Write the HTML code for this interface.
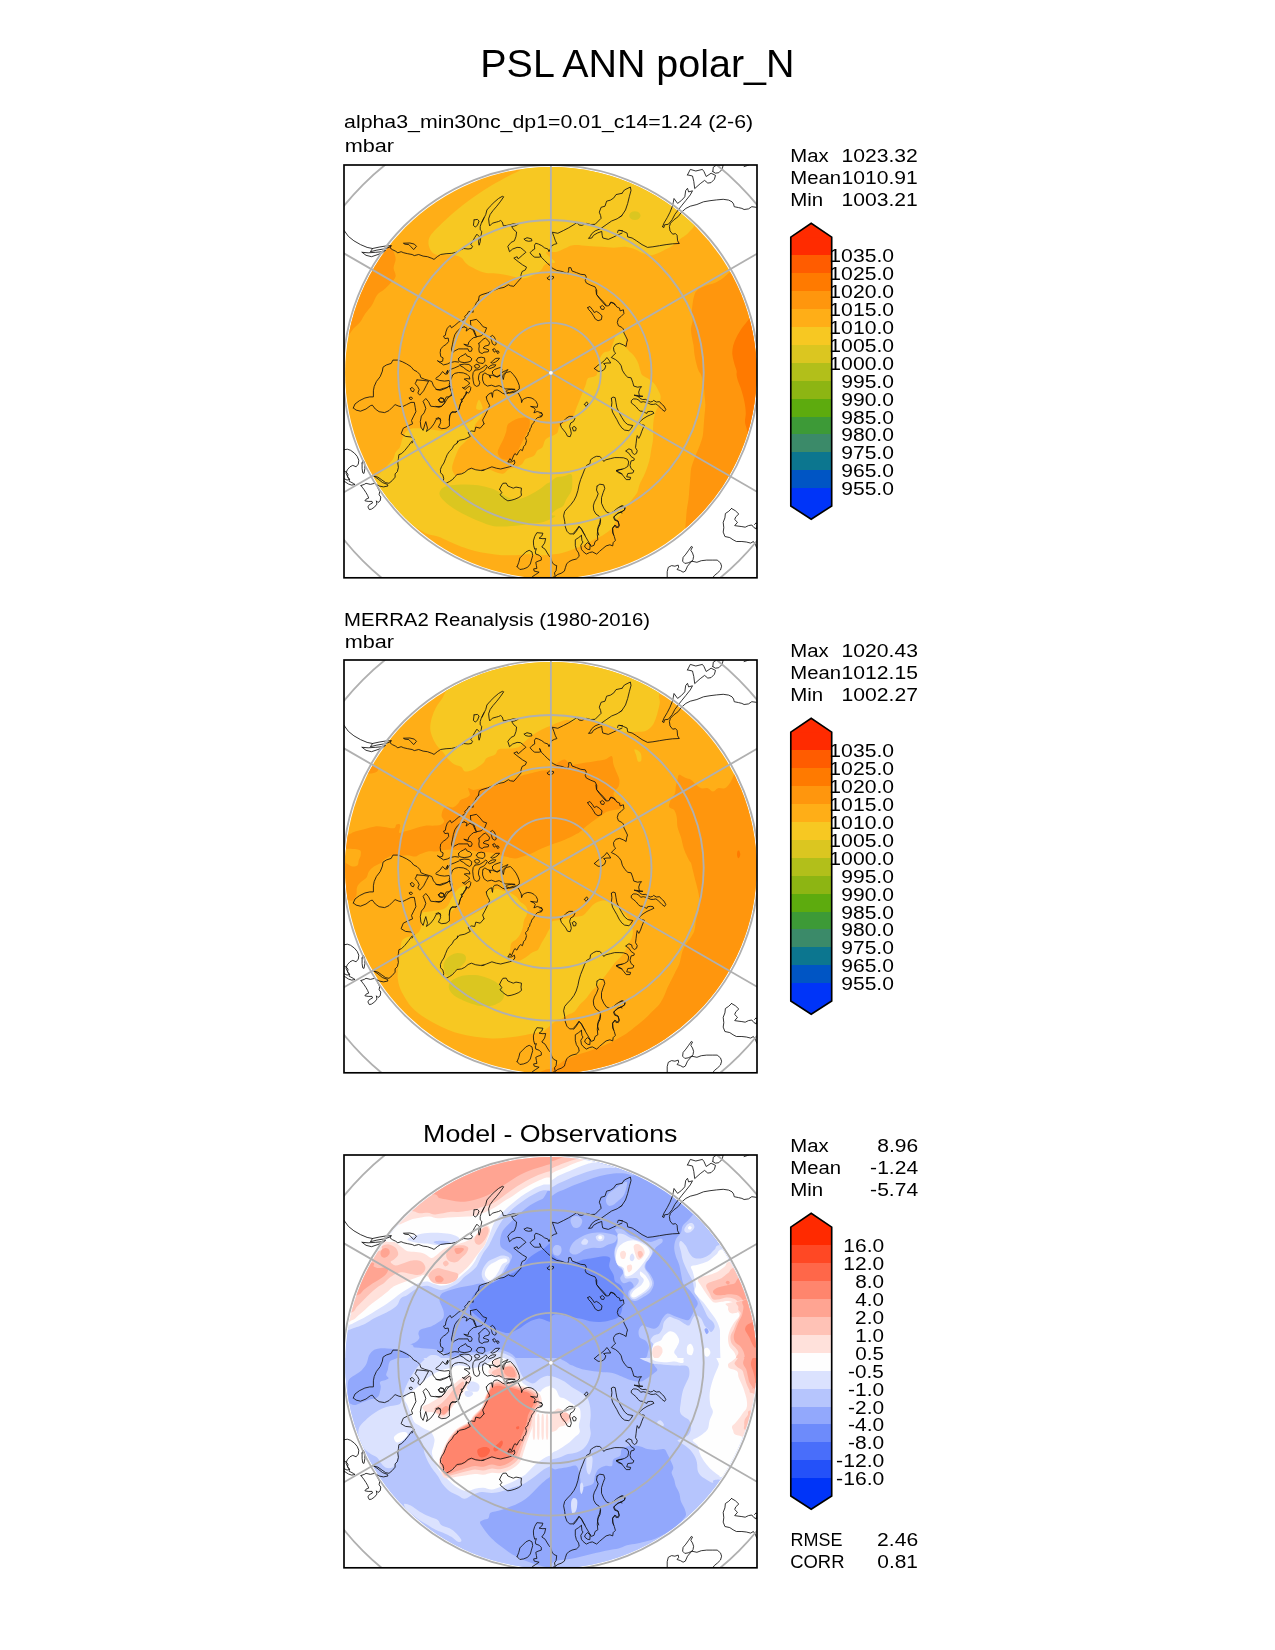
<!DOCTYPE html>
<html><head><meta charset="utf-8"><title>PSL ANN polar_N</title>
<style>html,body{margin:0;padding:0;background:#fff}svg{display:block}text{font-family:"Liberation Sans",sans-serif;fill:#000}.c{fill:none;stroke:#111;stroke-width:0.85;stroke-linejoin:round;stroke-linecap:round}.g{fill:none;stroke:#b0b0b0;stroke-width:1.85}</style></head><body>
<svg width="1275" height="1650" viewBox="0 0 1275 1650">
<rect width="1275" height="1650" fill="#fff"/>
<defs>
<clipPath id="box"><rect x="344" y="165" width="413" height="412.8"/></clipPath>
<clipPath id="disc"><circle cx="550.9" cy="372.8" r="205.8"/></clipPath>
<clipPath id="qTL"><rect x="300" y="100" width="250.9" height="268"/></clipPath>
<clipPath id="qTR"><rect x="550.9" y="100" width="300" height="268"/></clipPath>
<clipPath id="qBL"><rect x="300" y="368" width="250.9" height="300"/></clipPath>
<clipPath id="qBR"><rect x="550.9" y="368" width="300" height="300"/></clipPath>
<g id="grid" class="g"><circle cx="550.9" cy="372.8" r="49.9"/><circle cx="550.9" cy="372.8" r="100.6"/><circle cx="550.9" cy="372.8" r="152.8"/><circle cx="550.9" cy="372.8" r="207.6"/><circle cx="550.9" cy="372.8" r="265.9"/><circle cx="550.9" cy="372.8" r="329.3"/><path d="M550.9,-47.2 L550.9,792.8"/><path d="M187.2,162.8 L914.6,582.8"/><path d="M914.6,162.8 L187.2,582.8"/></g>
<g id="coast" class="c"><path d="M344,230.3 348.4,236.4 353.9,240.8 360.5,244.6 367.1,247.4 372.5,248.5 371.5,250.1 370.4,251.7 376.9,250.1 383.5,249 389,247.4 391.2,245.7 385.7,246 379.1,247.1 372.5,248.5"/><path d="M362.1,252.3 368.2,252.8 375.8,252.3 382.4,251.7 385.7,250.1 382.4,252.8 378,254.5 371.5,256.7 366,255.3 362.1,252.3"/><path d="M391.2,245.7 390.1,247.9 392.3,249.6 395.6,251.2 397.8,252.8 401.1,251.7 403.8,252.8 407.7,253.7 412.1,254.5 414.3,255.6 418.7,254.5 423.1,256.1 427.5,256.7 431.8,258.3 434,259.4 437.3,256.7 440.6,254.5 446.1,253.7 451.6,253.4 456,252.3 460.4,250.1 463.7,248.5 468.1,249 471.4,248.5 472.5,246.3 470.8,244.6 473,240.8 474.7,237.5 476.9,234.2 479.6,236.9 478.5,241.9 479.1,245.2 480.2,241.9 480.7,237.5 481.3,234.2 481.8,231.4 480.2,229.8 480.2,226.5 481.3,223.2 482.9,219.9 484,217.7"/><path d="M403.8,243.2 409.9,243 414.3,244.1 416.5,246.3 413.7,249.6 411,246.8 408.8,244.6 404.4,244.1 403.8,243.2"/><path d="M474.1,219.9 477.4,219.4 479.1,221 477.4,225.4 475.2,227 473.4,225.4 474.1,219.9"/><path d="M482,222.1 483.6,218.8 485.8,214.4 486.9,210 490.2,206.2 494.1,202.3 498.5,198.5 502.3,196.3 503.7,196.8 500.7,201.2 496.8,206.2 493,210.6 490.2,214.4 488.6,218.8 489.1,223.2 489.7,225.9 492.4,223.2 496.3,222.1 498.5,221.5 500.7,220.5 502.3,222.1 503.4,225.9 506.7,225.4 509.5,224.8 513.8,223.7 518.2,224.3 514.9,225.9 511.6,226.5 513.8,229.8 516.6,232 516,236.4 514.4,240.8 511.1,242.4 507.8,246.3 509.5,251.7 512.7,249 517.1,247.4 520.4,247.6 523.7,250.1 525.9,252.3 522.6,255 518.2,258.9 517.1,256.7 513.8,258.1 518.2,261.6 522.6,264.9 526.5,267.1 525.4,269.9 522.1,271.5 521,274.8 521,278.1 517.1,282.5 513.8,286.3 510.5,285.8 508.4,284.7 504,287.4 498.5,288.5 493,290.7 487.5,292.9 482,294.6 479.3,295.9 478.4,300.3"/><path d="M524.3,239.1 527,237.7 531.4,238.8 532,240.8 528.7,241.3 525.4,240.5 524.3,239.1"/><path d="M551.8,245.7 549.9,249.6 549,251.7 547.9,249 544.6,247.9 541.8,245.7 538.5,244.1 535.8,243.2 534.5,245.2 534.7,249 532,250.6 530.1,252.8 532.5,255.6 534.7,257.2 539.1,257.2 540.7,256.7 539.6,253.4 541.3,257.2 544.6,260.5 547.9,263.8 550.6,266 552.3,268.2 556.7,270.4 562.2,271.5 567.6,273.7 568.7,270.4 568.7,267.7 570.9,267.7 572,271 576.4,272.6 580.8,274.3 585.2,274.8 586.3,277 585.2,280.3 586.3,283 590.7,285.2 595.1,286.9 596.7,290.2 596.7,294.6 599.5,297.9 602.8,301.2 606.1,305"/><path d="M551.8,245.7 554.5,244.3 556.9,243.6 555.4,240.8 553.9,236.4 552.3,232.2 557.8,233.3 563.3,230.6 568.7,227.8 573.1,225.1 577,222.6 579.2,225.1 581.9,225.4 586.3,223.4 590.7,224.5 595.1,224.3 598.4,221 601.1,218.3 600.6,215.5 599.3,212.2 601.1,207.3 605,206.2 606.6,201.2 610.5,200.1 613.8,197.9 616,194.6 622,193.3"/><path d="M622,215.5 617.1,218.8 611.6,221 606.1,224.8 600.6,228.7 595.1,230.9 591.8,233.6 590.2,236.4 588.5,238.4 591.8,238 593.5,235.3 597.3,233.1 601.7,231.4 602.2,235.3 602.8,238 608.3,239.4 613.8,236.9 618.2,234.7 622,233.1"/><path d="M622.6,230.7 618.2,230.3 617.6,232.5"/><path d="M547.3,278.1 549.5,276.1 553.4,276.5 553.6,278.1 550.6,280.1 547.9,279.2 547.3,278.1"/><path d="M609.4,305 610.5,302.3 613.8,303.4 614.9,305"/><path d="M622,193.3 624.4,190 630.4,187 631,190.5 629.3,196.8 627.7,203.4 625.5,210 622.2,215 620,217.2"/><path d="M620,230.3 623.3,231.4 627.1,233.1 627.7,236.9 632.1,238 636.5,240.8 642,244.6 647.5,247.4 652.9,246.8 659.5,245.7 666.1,244.6 672.7,243.8 679.3,243.5 677.6,240.8 677.1,235.3 675.5,233.6 672.7,234.2 670,230.9 669.4,226.5 670.5,223.2 673.8,219.9 678.2,216.6 681.5,212.2 685.9,208.4 690.3,206.2 696.9,204.5 703.5,201.8 710,200.7 716.6,199.9 723.2,199.3 728.7,200.1 732,201.8 733.6,204 734.2,206.7 738.6,207.6 741.9,208.4 744.1,209.5 748.5,208.9 751.8,206.7 756.2,207.3"/><path d="M662.6,226.7 663.9,223.2 667.2,217.7 670,212.2 672.2,206.7 673.3,202.3 674,198.5 677.6,203.4 681.5,200.4 684.8,196.8 685.7,190.5 687.5,188.3 688.6,191.9 692.5,190.8 690.3,194.9 685.9,200.4 681.5,205.8 678.2,210 674.9,214.4 672.2,219.6 668.3,224.3 664.5,224.8 663.9,227.6 662.6,226.7"/><path d="M687.5,174.9 690.3,169.4 695.8,171 702.4,169.4 704,171.6 706.2,176.5 711.1,173.2 715.5,175.4 714.4,179.3 711.1,182.6 707.8,183.1 704.6,180.4 700.2,183.7 694.7,188.6 693.8,181.5 692.5,176 687.5,174.9"/><path d="M712.8,171.6 713.3,167.2 716.6,165 723.2,165 722.1,169.4 718.8,172.7 715.5,173.2 712.8,171.6"/><path d="M744.1,166.6 747.4,165.5 749.6,164.5"/><path d="M353.3,407.9 355,404 359.4,400.7 364.9,398 369.8,396.9 373.4,396.9 373.4,390.8 374.2,386.5 376.4,381.5 380.2,376.6 382.4,371.1 383,367.2 386.3,365 391.2,363.4 392.9,360.1 397.8,360.1 402.2,361.7 406.6,363.9 411,366.7 413.7,370 417,371.6 419.8,374.4 420.9,377.7 424.7,379.3 428.6,380.4 431.8,381.5 433.5,385.9 436.8,389.7 440.6,390.3 445,388.6 448.3,386.5 451.1,386.5 452.2,389.7 451.6,394.1 448.9,396.9 446.7,399.6 444.5,403.5 441.7,406.2 436.2,406.8 430.7,406.2 428.6,401.8 425.8,398.5 423.1,401.3 424.7,405.1 425.8,408.4 424.2,412.8 421.4,416.1 420.3,421.6 420.9,427.1 423.1,430.4 424.7,424.9 425.8,421.6 427.5,428.2 426.4,431.5 430.7,428.2 434,423.8 436.2,419.4 440.1,418.3 440.6,422.7 438.4,427.1 441.7,428.7 446.1,428.2 449.4,426 449.4,419.4 450,415 452.2,411.7 456,412.3 459.3,408.4 460.4,404 462,400.2 464.8,396.3 466.4,391.9"/><path d="M353.3,407.9 356.1,410.1 360.5,411.2 366,409 370.4,405.7 372.3,405.1 375.3,409 379.1,411.7 384.6,412.6 389,410.6 392.3,407.3 395.1,404.6 398.9,406.2 402.2,406.8 406.6,404.6 411,402.4 414.3,402.4 415.2,407.3 415.9,411.7 413.7,416.1 411.5,420.5 412.6,423.8 407.7,426 403.3,428.2 401.1,433.7 405.5,436.4 411,437 414.3,439.2 412.1,443"/><path d="M417,379.9 423.1,380.4 428.6,381.2 426.4,385.4 423.6,390.8 419.8,395.2 417.8,393 419.2,389.7 417.6,386.5 415.2,383.7 417,379.9"/><path d="M410.4,388.6 412.1,387.3 414.3,389.7 413.2,391.9 411.2,390.8 410.4,388.6"/><path d="M409.3,398 411,396.9 412.6,398.3 411.2,399.6 409.7,399.1 409.3,398"/><path d="M438.4,399.6 440.6,397.7 443.4,398.3 444.5,400.2 442.3,402.2 439.5,401.8 438.4,399.6"/><path d="M484,423.8 480.2,428.2 475.8,427.1 474.7,431.5 471.4,430.9 468.1,432.6 470.3,436.4 464.8,439.2 459.3,440.3 457.1,443"/><path d="M470.4,320.7 476.5,319.3 480.2,323.1 483.1,326.8 486.6,327.8 484.9,332.5 481.2,335.8 476.5,336.7 475.1,332.9 473.6,329.2 470.8,325.4 470.4,320.7"/><path d="M478.8,300 476.5,302.4 475.1,305.6 472.7,308.9 473.2,312.2 468.9,311.3 467.1,314.1 464.7,316.5 465.6,318.4 462.8,320.2 458.6,322.1 454.8,325.4 451.5,327.8 450.1,325.4 447.3,328.2 445.9,332 445.4,335.3 443.5,336.2 444.9,338.6 448.2,338.1 448.7,341.4 446.4,344.2 443.5,346.1 440.7,348.9 440.2,352.7 440.7,356.5 443.1,357.9 442.6,361.2 439.8,362.1 437.4,360.7 440.2,362.6 443.5,364.9 447.3,364 450.1,362.6 454.8,361.6 458.6,362.1"/><path d="M464.2,326.8 467.1,328.2 466.1,331.1 469.9,328.2 473.2,330.1 475.1,334.8 476.5,337.2 473.6,337.6 471.3,339.5 468.9,341.9 468,345.2 463.8,344.2 467.1,346.1 470.8,346.6 472.2,348.9 471.3,351.3 468.9,351.3 468,348.9 463.3,348.9 458.6,348.9 454.8,350.8 452.5,352.7 451.5,348.9 452.5,344.2 453.4,339.5 454.8,334.8 457.2,331.1 460.5,328.2 464.2,326.8"/><path d="M478.8,343.3 481.2,341.4 483.1,339.1 485.4,338.1 488.2,340.5 489.6,342.8 488.7,345.2 484.9,346.1 483.1,348 485.9,348.9 488.7,349.9 488.2,351.8 484,352.2 482.1,353.6 479.3,352.2 478.8,348.9 479.3,346.1 478.8,343.3"/><path d="M490.6,336.7 492.5,335.3 494.4,337.2 495.8,340.5 496.2,344.2 494.8,345.2 492.5,343.8 491.5,340.5 490.6,336.7"/><path d="M492.9,349.4 494.4,348.5 495.8,350.4 494.8,352.2 493.4,351.3 492.9,349.4"/><path d="M496.7,351.3 498.1,350.8 499.1,352.2 498.1,353.6 497,352.9 496.7,351.3"/><path d="M458.6,358.4 460.5,356.5 463.3,355.1 465.6,353.6 467.1,356 469.9,356.9 471.8,358.8 470.8,361.2 468,362.1 464.2,362.6 460.9,362.1 458.6,360.7 458.6,358.4"/><path d="M460,364.9 464.2,364 468.9,364.5 471.8,366.8 471.3,370.1 469.4,371.5 466.1,369.6 463.3,367.3 460.5,365.9 460,364.9"/><path d="M476.5,360.2 477.9,357.9 481.2,357.2 484.5,357.9 484.9,361.2 483.1,363.5 480.2,363.1 477.9,362.6 476.5,360.2"/><path d="M474.6,365.9 476,364.2 478.8,364.9 479.8,366.8 477.9,368.2 475.5,368 474.6,365.9"/><path d="M475.1,370.1 479.3,369.6 483.1,367.3 485.9,364.9 487.3,366.4 485.4,369.6 483.1,371.5 480.2,372.5 478.8,375.3 478.4,379.1 479.8,382.8 478.8,385.6 476.5,386.4 474.1,384.7 473.2,380.9 472.7,376.2 473.2,372.5 475.1,370.1"/><path d="M491.1,362.6 493.4,360.2 495.8,358.4 499.5,358.2 498.1,360.2 495.3,362.1 492.5,363.2 491.1,362.6"/><path d="M488.2,367.8 490.1,365.9 492.5,364.9 495.8,364.8 494.8,366.6 492,367.8 489.6,368.7 488.2,367.8"/><path d="M483.1,374.4 484.9,372.9 487.3,374.4 489.6,375.3 490.6,378.1 489.2,375.3 492.5,375.3 496.2,376.7 500.9,375.3 501.9,372.5 505.6,370.6 508,369.6 505.2,372.5 503.3,374.4 502.4,377.2 503.3,379.5 504.2,375.3 506.1,372.5 510.4,371.5 513.2,374.4 516,378.1 517.9,381.9 519.3,385.6 519.3,388.9 516.9,390.8 513.2,391.3 509.4,392.7 505.6,391.8 507.5,389.9 511.3,389.4 515.1,389.4 510.4,388.9 505.6,388.9 501.9,387.1 499.1,385.6 495.3,386.6 491.5,385.2 487.3,386.1 484,383.8 482.6,380 482.6,376.2 483.1,374.4"/><path d="M492.5,371.5 494.4,369.6 498.1,368.2 500.9,367.3 501.9,369.6 500.9,372.5 500,375.3 497.2,377.2 494.4,375.3 492.5,373.9 492.5,371.5"/><path d="M452.5,375.3 454.8,373.4 458.6,372.5 463.3,372.9 467.1,374.4 469.4,376.7 469.9,379.1 467.1,378.6 464.2,379.1 467.1,380.9 469.9,383.3 468,384.7 466.1,386.6 463.3,388 462.4,387.5 465.2,389.4 467.5,387.5 469.4,386.1 470.8,387.5 470.4,390.4 468.5,393.2 466.1,391.8 466.6,394.1 464.2,396 463.3,398.8 460.9,399.3 462.4,401.6 460.5,403.5 459.5,406.4 459.1,409.2 457.6,411.1 454.8,412 451.1,412.5 449.6,415.8 449.2,420"/><path d="M452.5,375.3 451.5,378.1 450.1,380.9 449.2,384.7 450.1,388.5 451.5,392.2 452,395.1 449.2,396.9 446.4,396.9 444.9,399.8 444,403.5 441.6,406.4 438.8,407.3 436,406.4"/><path d="M486.4,396.9 488.7,394.1 491.5,392.7 492.5,397.4 492.9,392.7 494.4,390.4 497.2,389.9 500,391.3 502.4,393.2 505.2,394.1 508.5,393.2 512.2,392.7 516,391.8 518.4,393.2 519.8,396 521.2,398.8 521.6,402.6 522.6,399.8 524.9,398.4 527.8,397.4 531.1,397.9 533.9,399.3 536.2,401.6 537.6,404.5 537.2,407.3 533.9,406.8 530.6,406.4 533.9,407.8 535.3,409.6 533.9,412.9 537.2,411.5 540.5,412.5 542.4,414.4 541.6,416.7 537.5,417.6 534.9,420.1 533.9,422.4 531.7,425.1 531.2,427.2 530.1,428.8 529.6,431.4 528.2,432.9 528,435.2 525.5,437.6 526.2,440.1"/><path d="M486.4,396.9 486.8,399.8 488.2,402.6 489.6,405.4 488.7,408.2 486.8,412 484.9,415.8 482.6,420 484,423.8"/><path d="M438.8,399.8 440.7,398.1 443.5,398.8 444,400.7 442.1,402.4 439.8,401.8 438.8,399.8"/><path d="M436,378.1 439.8,375.3 442.6,371.5 445.4,374.4 447.8,370.1 446.8,374.4 450.1,369.6 454.8,367.8 459.1,365.9"/><path d="M436,379.1 439.8,380.5 444.5,381.1 449.2,380.5 450.1,381.9"/><path d="M436,389.4 439.8,389.6 443.5,388.3 447.3,387.7 450.1,385.2"/><path d="M436,418.6 438.8,417.6 440.7,420"/><path d="M595.9,290 596.5,294.4 599.2,298.2 602.5,302.1 605.8,305.9 608.5,305.9 611.3,302.1 614.6,303.7 616.8,307 619.5,308.1 620.1,310.9 623.4,309.8 623.9,313.6 621.2,316.4 618.4,318.5 617.3,322.4 618.4,325.7 621.7,327.3 623.4,329 623.9,332.8 625.6,336.1 627.5,340 626.7,342.7 626.1,346.5 623.4,344.9 619.5,343.3 615.7,344.4 613.5,347.6 614,351.5 615.7,353.1 612.9,355.9 611.3,357.5 615.7,359.7 619,362.5 621.2,365.8 622.3,370.2 625,374.6 627.8,377.3 631.1,377.8 632.7,382.2 633.8,386.1 637.6,387.2 641.5,386.6 639.8,388.8 638.7,392.1 639.3,395.4"/><path d="M587.7,307.6 589.9,306.5 592.6,309.8 594.3,312.5 596.5,311.4 599.2,313.1 602,315.8 601.4,319.6 598.1,320.7 595.4,319.1 593.2,315.3 591,312 588.8,309.8 587.7,307.6"/><path d="M600.3,307 602.3,305.4 604.5,307.6 603.6,309.5 601.4,309.2 600.3,307"/><path d="M594.3,368.5 598.1,365.2 601.4,363 604.7,360.3 606.9,357.5 609.1,360.3 610.7,363 606.9,363 603.6,363.6 605.8,365.8 604.7,369.1 601.4,371.3 598.1,371.3 594.3,368.5"/><path d="M634.4,395.2 638.7,395.6 642.9,396.3 638.7,396.7 634.4,395.2"/><path d="M560.3,424.1 563.1,421.9 565.8,418.6 569.1,416.4 572.9,416.4 574.9,418.6 573.5,421.4 570.7,423 569.6,426.3 570.7,430.1 571.3,433.4 570.2,436.7 567.5,436.2 565.8,432.9 563.6,430.1 561.4,427.4 560.3,424.1"/><path d="M572.4,427.9 574,426.3 576.2,427.9 575.7,430.7 573.5,431 572.4,427.9"/><path d="M584.5,404.3 586.7,401.8 588,403.8 586.1,406.5 584.5,404.3"/><path d="M540,413.1 541.6,412.6 542.4,414.8 541.1,416.4 540,415.9"/><path d="M611.4,398.3 613,397 615.2,397.7 616,402.7 616.9,407.6 619.1,412.6 621.8,417.5 624.6,421.9 627.8,424.6 632.8,425.5 631.1,428.5 628.9,430.7 624.6,430.1 621.8,427.9 619.1,424.1 616.9,419.7 614.7,415.9 612.5,412 611.4,407.1 611.9,402.7 611.4,398.3"/><path d="M638.2,396.3 640.1,398.5 642.6,399.5 645.8,399.4 647.6,400.7 650.2,402 652.7,401.4 653.6,400.4 656.4,402 659.6,401.7 661.4,403.9 664,406.1 665.8,409.5 664.6,411.4 662.1,409.5 659.6,407 657.7,405.1 655.8,403.9 653.3,404.4 650.8,404.4 648.3,403.2 645.8,402.3 643.2,401.7 640.7,402.3 638.9,400.1 636.3,399 633.2,398.9 631.3,400.7 631.3,402.9 633.8,404.8 636.3,407 638.2,409.5 640.1,411.1 643.2,411.4 645.8,413 647,413.3 647.6,411.7 650.8,411.3 653,411.7 653.9,413.3 650.8,414.7 647,416.4 643.9,418.3 641.4,420.2 639.5,422.1 639.4,423.5"/><path d="M639.4,423.5 641.6,424.6 644.3,425.2 643.2,427.9 641.6,431.8 640.5,435.1 638.8,438.4 637.2,435.6 636.6,438.9 636.1,443.3 635.5,447.7 637.2,450.5 636.6,453.2 634.4,454.5 632.2,452.6 631.7,449.9 628.9,448.8 625.6,451 628.9,453.2 631.1,456.5 634.4,458.7 633.9,460.3 631.1,460.9 630,465.3 631.1,468.6 633.9,470.8 632.8,473 627.8,473.5 626.7,476.8 630.6,477.4 630,479.6 626.2,479.6 624,476.8 621.3,473.5 618.5,471.9 616.3,470.8 620.2,469.7 624.6,468.4 627.8,466.4 628.7,462 627.3,459.2 623.5,457.8 619.1,457.6 614.7,457.6 610.3,458.7 605.9,459.8 603.7,461.4 602,458.7 599.8,456.5 596.5,456.3 593.8,457.4 590.5,459.8 590,463.6 586.7,465.3 584.5,469.7 582.8,474.1 580.6,479.6 579,485 577.9,490.5 576.2,496 574,500.4 570.7,504.8 567.5,508.1 564.7,511.4 563.6,515.8 564.7,521.3 565.3,526.8 566.9,531.2 569.6,533.9 572.9,533.9 576.2,530.1 579,526.2 581.7,529.5 583.9,533.4 585,535"/><path d="M597.1,486.1 599.8,484.2 603.7,484.8 604.8,488.3 603.1,492.7 601.5,497.7 601.5,503.2 603.7,508.1 606.4,511.9 610.3,513.6 613.6,511.4 616.9,508.6 621.3,505.9 624.6,506.5 625.1,509.2 622.4,511.4 618.5,513 615.8,515.2 613.6,517.4 614.7,520.2 618,521.3 619.1,525.1 616.9,527.9 614.7,526.2 612.5,528.4 613,533.4 613.6,535"/><path d="M597.1,486.1 596.5,490 598.2,493.8 596.5,498.2 594.4,502.1 593.3,505.9 593.8,510.3 596,514.1 599.3,516.3 600.4,519.1 599.8,522.9 598.2,526.8 597.6,531.2 598.7,535"/><path d="M412.1,441 408.8,445.4 404.9,450.3 401.6,453.6 398.9,454.7 398.4,458.6 397.8,463 398.4,467.4 397.3,471.7 395.1,473.9 395.1,477.2 392.3,480.5 389,483.3 385.7,482.7 381.9,480 378,477.2 373.6,475.9 378,478.9 382.4,482.5 387.4,484.4 387.9,486 383.5,486.9 379.1,486 375.8,484"/><path d="M361,485.5 364.3,484.4 366,483.3 370.4,484.4 374.7,483.3 376.9,484.9 378,488.2 379.7,491.5 379.1,494.8 380.8,497 380.2,500.8 378,502.5 376.4,500.8 376.9,504.1 374.7,506.9 371.5,509.1 369.3,509.6 367.9,506.9 369.3,504.7 372.5,503 372,501.4 368.2,501.4 364.9,500.8 366,499.2 368.7,498.1 367.6,495.4 366,492.6 363.8,489.3 362.1,487.1 361,485.5"/><path d="M344,449.8 347.3,449.2 350.6,450.3 354.4,453.1 357.2,456.4 358.8,460.2 358.3,464.1 356.1,466.8 352.8,465.4 350,466.8 347.3,469.8 346,473.1 347.5,476.4 349.3,479.4 347.1,480.1 344,478.6"/><path d="M344,470.9 346.2,472 348,474.2 347.5,477.2 349.7,479 349.1,481.2 353.4,483.4 355,484.5 351.7,485.1 348.4,484 345.1,481.8 344,481.2"/><path d="M362.1,463 363.2,460.2 364.6,463 364.9,468.5 364,473.4 362.7,472.8 362.1,468.5 362.1,463"/><path d="M457.6,441 457.1,443.2 453.8,445.4 452.2,448.7 449.4,451.4 447.2,454.7 445.6,458.6 443.9,463 441.7,466.3 440.4,469.5 440.6,472.8 442.8,475 443.7,478.3 443.4,481.1 446.1,483.3 449.4,481.6 452.7,479.4 454.9,476.7 457.1,474.5 461.5,473.9 464.8,472.3 468.1,469.5 471.4,468.2 475.8,469.8 480.2,470.4 484,470.1"/><path d="M482,470.6 486.4,469 491.9,466.8 496.3,468.2 500.7,469 505.1,467.9 509.5,466.8 512.7,465.7 514.9,463 514.4,460.2 511.6,461.9 507.8,462.1 510,458.6 511.4,460.8 513.8,455.3 514.9,453.6 516.9,455.1 518.8,451.4 520.7,449.6 522.4,450.7 523.7,446.5 525.4,444.8 526.5,441"/><path d="M499.6,489.3 501.2,486 502.9,483.3 506.2,483.1 507.8,486 510.5,487.1 513.3,488.2 516,487.1 519.3,487.7 521.5,488.2 521,492.1 521.5,495.4 518.8,497.5 514.9,499.2 511.1,500.3 507.8,500.8 505.1,499.2 502.3,497 500.1,494.8 501.8,492.6 499.6,489.3"/><path d="M532.5,576.6 535.8,574.4 539.1,572.2 534.2,571.1 533.6,568.9 536.9,568.4 536.4,565.6 535.8,562.3 538,561.2 541.3,560.1 541.3,557.4 539.1,555.2 535.8,554.1 535.3,551.9 536.4,548.6 534.7,549.2 533.6,545.3 533.4,540.9 534.7,536.5 536.9,532.7 542.9,533.2 541.8,536 539.1,538.2 542.9,538.7 545.7,538.5 544.6,543.1 541.8,547 545.1,549.2 547.3,553 549,555.7 550.6,557.4 552.3,562.9 555,565.1 556.7,565.6 556.1,570.6 554.5,572.8 555,575.5 553.4,577.2"/><path d="M517.1,566.7 518.8,562.3 519.9,557.9 522.6,555.2 525.9,551.9 529.2,550.3 532,551.9 532.7,555.7 531.4,560.1 530.3,564 527.6,567.3 523.7,568.9 519.9,569.5 517.1,566.7"/><path d="M581.4,535.4 578.6,537.6 575.3,539.8 575.3,545.3 576.4,549.7 578.6,553 579.2,556.3 576.4,559 572,560.1 568.7,561.8 566.6,564 565.5,567.3 564.4,571.1 561.1,573.3 557.8,574.4 555,576.6"/><path d="M581.4,535.4 581.9,540.4 583,542 580.8,545.3 581.4,549.2 583,551.4 586.3,554.1 589.6,552.5 592.4,551.9 596.7,554.1 599.5,551.4 602.8,548.6 606.1,545.9 609.9,544.8 612.7,545.9 613.2,542.6 615.4,540.4 614.3,536.5 612.7,532.1 612.7,527.7 614.9,525 618.2,527.7 619.3,525.6 618.2,521.2 615.4,519.5 613.8,516.8 617.1,513.5 620.4,512.4 622,512.9"/><path d="M590.2,544.8 587.4,542.6 585.2,544.8 584.7,547 587.4,549.2 589.8,549.7 590.2,544.8"/><path d="M622,469.3 619.3,469.5 616,470.6 618.7,472.8 622,473.9"/><path d="M573.7,534.3 576.4,531 579.2,526.6 581.4,528.8 583.6,533.2 585.8,537.1 588,540.9 590.2,544.8 591.3,546.4 594,545.3 595.1,541.5 597.8,539.8 597.3,534.3 597.8,528.8 600,524.5 600.6,520.1"/><path d="M620,506.9 622.7,505.8 624.9,507.4 624.4,510.2 621.6,511.8 620,512.4"/><path d="M731.5,508.5 735.3,510.7 738.8,514 735.8,516.8 734.7,519.5 737.5,522.3 734.7,525.6 738,526.1 741.9,526.6 745.2,527.2 748.5,525.6 751.8,525 754,527.7 756.7,528.8"/><path d="M754.5,524.5 756.2,522.8 757.3,524.5 756.2,528.8"/><path d="M731.5,508.5 728.7,511.3 725.4,513.5 724.9,517.9 723.2,522.3 723.8,527.7 723.2,532.1 724.9,536.5 729.8,537.6 733.1,539.8 736.4,541.5 741.9,541.5 746.3,542 750.7,543.1 753.4,541.5 755.6,544.8 756.7,548.1"/><path d="M667.2,577.7 667.2,571.7 668.3,567.3 671.6,565.6 674.9,566.2 678.2,565.1 678.7,567.3 677.1,569.5 680.4,570.6 683.1,572.2 685.3,571.1 687.5,566.2 690.3,562.9 691.9,561.2 696.9,562.3 701.3,560.7 706.7,560.1 712.2,560.1 717.2,560.1 720.5,562.9 721.6,566.2 720.5,570 717.7,572.8 714.4,575.5 712.8,577.7"/><path d="M691.9,561.2 688.1,562.9 684.8,563.4 682.6,561.2 683.1,557.4 685.9,554.1 688.6,550.3 691.4,546.4 692.5,547 690.8,550.3 692.5,553 693.6,556.3 693,559.6 691.9,561.2"/></g>
</defs>
<g transform="translate(0,0)">
<g clip-path="url(#box)">
<g clip-path="url(#disc)"><circle cx="550.9" cy="372.8" r="206.8" fill="#ffae17"/>
<path fill="#f7c822" d="M694.4,225.8C694.1,226.2 693.6,227.3 692.7,228.3C691.9,229.3 690.5,230.5 689.3,231.7C688.2,232.8 687.4,233.9 686,235C684.6,236.2 682.6,237.2 680.9,238.4C679.2,239.7 677.5,241.2 675.8,242.6C674.2,244 672.8,245.6 670.8,246.8C668.8,248.1 666.3,249.1 664,250.2C661.8,251.3 659.5,252.7 657.3,253.6C655.1,254.4 652.8,255.3 650.6,255.3C648.3,255.3 646.3,254.6 643.8,253.6C641.3,252.6 638.5,250.5 635.4,249.4C632.3,248.3 628.9,247.1 625.3,246.8C621.6,246.6 617.4,247.7 613.5,247.7C609.5,247.7 605.9,247.1 601.6,246.8C597.4,246.6 592.9,246.3 588.2,246C583.4,245.7 576.9,244.7 573,245.2C569,245.6 567.4,247.4 564.5,248.5C561.7,249.7 559.2,251.3 556.1,251.9C553,252.6 546.2,250.7 546,252.4C545.8,254.1 554.6,260.3 555,262C555.4,263.8 550.1,262.3 548.3,262.9C546.4,263.4 545.3,264.1 544,265.4C542.8,266.7 542.4,268.9 540.7,270.5C539,272 536.5,273.4 533.9,274.7C531.4,275.9 528,277.5 525.5,278C523,278.6 521.6,278.5 518.8,278C515.9,277.6 512,276.2 508.6,275.5C505.3,274.8 501.9,274.2 498.5,273.8C495.1,273.5 491.5,273.7 488.4,273.3C485.3,272.9 482.8,272.3 480,271.3C477.2,270.3 473.9,268.5 471.5,267.1C469.1,265.7 467.3,264.4 465.6,262.9C463.9,261.3 463.2,259.1 461.4,257.8C459.6,256.5 457.5,255.8 454.7,255.3C451.9,254.7 447.6,254.5 444.6,254.4C441.5,254.4 438.4,255.3 436.1,254.8C433.9,254.2 432.3,252.8 431.1,251.1C429.8,249.3 428.8,246.6 428.5,244.3C428.3,242.1 428.4,239.8 429.4,237.6C430.4,235.3 431.9,233.6 434.4,230.8C437,228 440.6,224.4 444.6,220.7C448.5,217.1 453,213 458,208.9C463.1,204.8 469.3,200.2 474.9,196.3C480.5,192.3 486.1,188.7 491.8,185.3C497.4,181.9 503.6,178.7 508.6,176C513.7,173.4 518.8,171.4 522.1,169.3C525.5,167.2 527.7,164.4 528.9,163.4L529,150 720,150 720,215Z"/><path fill="#dbc620" d="M640.5,215.6C640.5,216.4 640.2,217.2 639.7,217.8C639.3,218.5 638.5,219.1 637.7,219.5C636.9,219.8 635.8,220 634.9,220C633.9,220 632.9,219.8 632.1,219.5C631.3,219.1 630.5,218.5 630,217.8C629.6,217.2 629.3,216.4 629.3,215.6C629.3,214.9 629.6,214.1 630,213.4C630.5,212.8 631.3,212.2 632.1,211.8C632.9,211.5 633.9,211.2 634.9,211.2C635.8,211.2 636.9,211.5 637.7,211.8C638.5,212.2 639.3,212.8 639.7,213.4C640.2,214.1 640.5,214.9 640.5,215.6Z"/><path fill="#ff960d" d="M389.7,245.2C390.4,246.4 393,250.4 394,252.7C394.9,255.1 395.7,257 395.6,259.5C395.6,262 393.6,265.1 393.6,267.9C393.6,270.7 396.2,273.8 395.6,276.4C395.1,278.9 392.6,280.9 390.6,283.1C388.6,285.4 386.1,287.9 383.8,289.8C381.6,291.8 379.1,292.4 377.1,294.9C375.1,297.4 374,301.9 372,305C370.1,308.1 367.3,310.6 365.3,313.5C363.3,316.3 362.2,319.4 360.2,321.9C358.3,324.4 355.3,326.5 353.5,328.6C351.7,330.7 350,333.6 349.3,334.5L340,335.4 333.3,278 365.3,240.9Z"/><path fill="#ff960d" d="M730.7,271.3C729.4,272.4 725.7,276.1 723.1,278C720.4,280 717.4,281.8 714.6,283.1C711.8,284.4 709,284.5 706.2,285.6C703.4,286.8 699.7,288.3 697.8,289.8C695.8,291.4 695.2,292.7 694.4,294.9C693.6,297.2 693.1,300.5 692.7,303.3C692.3,306.1 691.9,309 691.9,311.8C691.9,314.6 692.9,317.4 692.7,320.2C692.6,323 691.2,325.8 691,328.6C690.9,331.4 691.4,334.3 691.9,337.1C692.3,339.9 693.1,342.7 693.6,345.5C694,348.3 694,351.1 694.4,353.9C694.8,356.7 695.4,359.6 696.1,362.4C696.8,365.2 697.8,368.7 698.6,370.8C699.5,372.9 700.3,372.6 701.1,374.9C702,377.3 703.1,381.5 703.7,384.9C704.2,388.2 704.2,391.6 704.5,395C704.8,398.4 705.4,401.7 705.4,405.1C705.4,408.5 704.8,411.8 704.5,415.2C704.2,418.6 704,422 703.7,425.3C703.4,428.7 703.4,432.4 702.8,435.5C702.3,438.5 701.3,441.1 700.3,443.9C699.3,446.7 698.1,449.5 696.9,452.3C695.8,455.1 694.5,457.9 693.6,460.7C692.6,463.6 691.6,466.1 691,469.2C690.5,472.3 690.5,475.9 690.2,479.3C689.9,482.7 689.6,486 689.3,489.4C689.1,492.8 688.9,496.2 688.5,499.5C688.1,502.9 687.2,506.3 686.8,509.7C686.4,513 686.2,516.5 686,519.8C685.7,523 685.4,527.5 685.3,529L700,545 770,545 770,260 740,262Z"/><path fill="#ff7a00" d="M750,317.7C749.5,318.4 748.1,320.1 746.7,321.9C745.3,323.7 743.3,326.1 741.6,328.6C739.9,331.2 738,334.3 736.6,337.1C735.2,339.9 733.9,342.7 733.2,345.5C732.5,348.3 732.2,351.1 732.3,353.9C732.5,356.7 733.3,359.6 734,362.4C734.7,365.2 736.1,368.7 736.6,370.8C737,372.9 736.3,373.1 736.6,374.9C736.8,376.7 737.5,379.3 738.2,381.5C738.9,383.7 739.9,385.7 740.8,388.2C741.6,390.8 742.6,393.9 743.3,396.7C744,399.5 744.6,402.3 745,405.1C745.4,407.9 745.8,410.7 745.8,413.5C745.8,416.3 744.8,419.4 745,422C745.1,424.5 746.2,426.5 746.7,428.7C747.2,431 747.8,434.3 748,435.5L765,440 765,310Z"/><path fill="#f7c822" d="M374.6,476.8C375.3,476.3 377.2,475.5 378.8,474.2C380.3,473 382.2,470.9 383.8,469.2C385.5,467.5 387.4,465.8 388.9,464.1C390.4,462.4 392,461 393.1,459.1C394.2,457.1 394.5,454.3 395.6,452.3C396.8,450.3 398.7,449.5 399.9,447.3C401,445 401.4,441.4 402.4,438.8C403.4,436.3 404.4,433.8 405.8,432.1C407.2,430.4 408.3,429.3 410.8,428.7C413.4,428.1 417.6,428.2 420.9,428.4C424.3,428.5 427.7,429.2 431.1,429.6C434.4,429.9 438.1,430.7 441.2,430.7C444.3,430.7 446.8,430.2 449.6,429.6C452.4,428.9 455.5,427.9 458,427C460.6,426.2 462.5,425.5 464.8,424.5C467,423.5 469.8,422.2 471.5,421.1C473.2,420 473.5,418.9 474.9,417.7C476.3,416.6 478.6,415.2 480,414.4C481.4,413.5 483.3,412 483.3,412.7C483.3,413.4 481.4,416.5 480,418.6C478.6,420.7 475.9,423.1 474.9,425.3C473.9,427.6 474.9,430.1 474.1,432.1C473.2,434 471.4,435.5 469.8,437.1C468.3,438.8 466.5,440.5 464.8,442.2C463.1,443.9 461.1,445.3 459.7,447.3C458.3,449.2 457.3,451.8 456.4,454C455.4,456.3 454.5,458.5 453.8,460.7C453.1,463 452.2,465.5 452.1,467.5C452.1,469.5 452.6,471.1 453.3,472.6C454,474 455,475.8 456.4,475.9C457.7,476.1 459.4,474.4 461.4,473.4C463.4,472.4 465.9,470.7 468.2,470C470.4,469.3 472.7,469 474.9,469.2C477.2,469.3 479.4,470.9 481.7,470.9C483.9,470.9 485.9,468.9 488.4,469.2C490.9,469.5 494.3,471.9 496.8,472.6C499.4,473.3 501.6,474 503.6,473.4C505.5,472.8 506.7,470.2 508.6,469.2C510.6,468.2 513.1,468.3 515.4,467.5C517.6,466.7 520.4,465.5 522.1,464.1C523.8,462.7 523.5,460.5 525.5,459.1C527.5,457.7 532,457.1 533.9,455.7C535.9,454.3 535.9,452 537.3,450.6C538.7,449.2 541.1,448.9 542.4,447.3C543.6,445.6 543.8,442.2 544.9,440.5C546,438.8 547.4,438.1 549.1,437.1C550.8,436.2 553.6,435.5 555,434.6C556.5,433.7 557.1,433.1 557.8,431.7C558.6,430.3 558.1,427.8 559.5,426.2C560.9,424.5 564,423.5 566.2,422C568.5,420.4 571.4,418.9 573,416.9C574.5,414.9 574.5,412.7 575.5,410.2C576.5,407.6 577.8,404.5 578.9,401.7C580,398.9 581.1,396.1 582.3,393.3C583.4,390.5 584.6,387.4 585.6,384.9C586.6,382.3 586.3,379.8 588.2,378.1C590,376.5 594.9,377.5 596.6,374.9C598.3,372.3 597.2,366 598.3,362.4C599.4,358.7 601.4,355.1 603.3,353.1C605.3,351.1 608.4,352.4 610.1,350.6C611.8,348.7 612.3,344.9 613.5,342.1C614.6,339.3 615.1,335.4 616.8,333.7C618.5,332 622,331.2 623.6,332C625.1,332.8 625.8,336.5 626.1,338.8C626.4,341 624.8,343.5 625.3,345.5C625.7,347.5 627.2,348.9 628.6,350.6C630,352.2 632.1,353.6 633.7,355.6C635.2,357.6 636.8,359.8 637.9,362.4C639,364.9 639.7,368.7 640.4,370.8C641.1,372.9 641,373.7 642.1,374.9C643.2,376.1 645.2,376.7 647.2,378.1C649.1,379.5 652.1,381.2 653.9,383.2C655.8,385.1 657,387.7 658.1,389.9C659.3,392.2 660.5,394.1 660.7,396.7C660.8,399.2 659.8,402.6 659,405.1C658.1,407.6 656.5,409.6 655.6,411.8C654.8,414.1 654.3,416.1 653.9,418.6C653.5,421.1 653.2,423.6 653.1,427C652.9,430.4 653.4,435.2 653.1,438.8C652.8,442.5 652,445.6 651.4,448.9C650.8,452.3 650.4,456 649.7,459.1C649,462.2 648.2,464.7 647.2,467.5C646.2,470.3 645.1,473.1 643.8,475.9C642.5,478.7 640.7,481.5 639.6,484.4C638.5,487.2 638.3,490.3 637.1,492.8C635.8,495.3 633.7,497.3 632,499.5C630.3,501.8 628.6,504 626.9,506.3C625.3,508.5 623.6,510.8 621.9,513C620.2,515.3 618.2,517.5 616.8,519.8C615.4,522 614.6,524.8 613.5,526.5C612.3,528.2 611.8,528.5 610.1,529.9C608.4,531.3 605.6,533.5 603.3,534.9C601.1,536.4 598.8,537.2 596.6,538.3C594.3,539.4 592.7,540.3 589.8,541.7C587,543.1 582.8,545.3 579.7,546.8C576.6,548.2 574.1,549.1 571.3,550.1C568.5,551.1 565.7,552 562.9,552.7C560.1,553.4 557.8,553.9 554.4,554.3C551,554.8 546.6,555.2 542.4,555.2C538.1,555.2 533.4,554.3 528.9,554.3C524.4,554.3 519.9,555 515.4,555.2C510.9,555.3 506.4,555.5 501.9,555.2C497.4,554.9 492.9,554.2 488.4,553.5C483.9,552.8 479.4,552.1 474.9,551C470.4,549.8 465.6,548.3 461.4,546.8C457.2,545.2 453.5,543.4 449.6,541.7C445.7,540 441.5,537.9 437.8,536.6C434.2,535.4 430.6,535.2 427.7,534.1C424.8,533 421.8,530.9 420.6,530.2L404.1,519.8 382.2,496.2Z"/><path fill="#f7c822" d="M476.3,408.8C475.6,407.3 477.9,399.7 479,399.7C480,399.7 483.1,407.3 482.7,408.8C482.2,410.3 476.9,410.3 476.3,408.8Z"/><path fill="#dbc620" d="M439.5,492.8C439.8,491.1 440.9,489 442.9,487.7C444.8,486.5 447.6,485.8 451.3,485.2C455,484.6 460.3,484.4 464.8,484.4C469.3,484.4 473.8,484.5 478.3,485.2C482.8,485.9 488.1,487.3 491.8,488.6C495.4,489.8 497.4,491.2 500.2,492.8C503,494.3 505.8,496.7 508.6,497.8C511.4,499 514.3,499.7 517.1,499.5C519.9,499.4 522.7,498.1 525.5,497C528.3,495.9 531.4,494.2 533.9,492.8C536.5,491.4 538.7,490 540.7,488.6C542.6,487.2 544,485.5 545.7,484.4C547.4,483.2 549.1,483 550.8,481.8C552.5,480.7 553.8,478.6 556.1,477.6C558.4,476.6 562,476.5 564.5,475.9C567.1,475.4 570,473.1 571.3,474.2C572.6,475.4 572.3,479.9 572.3,482.7C572.3,485.5 572.3,488.3 571.3,491.1C570.3,493.9 567.6,497 566.2,499.5C564.8,502.1 564.5,504.6 562.9,506.3C561.2,508 558.1,508.2 556.1,509.7C554.2,511.1 551.2,513.6 551.1,514.7C550.9,515.8 556.5,515.1 555,516.4C553.6,517.7 546.7,521 542.4,522.3C538,523.6 533.4,523.4 528.9,524C524.4,524.5 519.9,525.3 515.4,525.7C510.9,526.1 505.8,526.5 501.9,526.5C498,526.5 495.1,526.4 491.8,525.7C488.4,525 485,523.6 481.7,522.3C478.3,521 474.9,519.6 471.5,518.1C468.2,516.5 464.5,514.7 461.4,513C458.3,511.3 455.5,509.7 453,508C450.5,506.3 448.2,504.6 446.2,502.9C444.3,501.2 442.3,499.5 441.2,497.8C440.1,496.2 439.2,494.5 439.5,492.8Z"/><path fill="#ff960d" d="M508.6,423.6C510,422.4 513.1,420.4 515.4,419.4C517.6,418.4 519.9,417.9 522.1,417.7C524.4,417.6 527.6,417.3 528.9,418.6C530.1,419.9 530,423.1 529.7,425.3C529.4,427.6 528.2,429.8 527.2,432.1C526.2,434.3 524.9,436.6 523.8,438.8C522.7,441.1 521.6,443.3 520.4,445.6C519.3,447.8 518.5,450.3 517.1,452.3C515.7,454.3 513.7,456.1 512,457.4C510.3,458.6 508.9,459.9 506.9,459.9C505,459.9 501.7,458.6 500.2,457.4C498.7,456.1 497.7,454.3 497.7,452.3C497.7,450.3 499.2,447.8 500.2,445.6C501.2,443.3 502.6,441.1 503.6,438.8C504.6,436.6 505.5,434 506.1,432.1C506.7,430.1 506.5,428.4 506.9,427C507.4,425.6 507.2,424.9 508.6,423.6Z"/>
</g>
<use href="#coast"/>
<use href="#grid"/>
<circle cx="550.9" cy="372.8" r="1.9" fill="#fff"/>
</g>
<rect x="344" y="165" width="413" height="412.8" fill="none" stroke="#000" stroke-width="1.67"/>
</g>
<g transform="translate(0,495)">
<g clip-path="url(#box)">
<g clip-path="url(#disc)"><circle cx="550.9" cy="372.8" r="206.8" fill="#ffae17"/>
<path fill="#ff960d" d="M555,274.7C553.6,275.2 546.2,275 542.4,275.5C538.6,276.1 535.6,277.2 532.2,278C528.9,278.9 525.5,279.4 522.1,280.6C518.8,281.7 515.4,283.5 512,284.8C508.6,286.1 505.3,287 501.9,288.2C498.5,289.3 495.1,290.7 491.8,291.5C488.4,292.4 484.7,292.7 481.7,293.2C478.6,293.8 475.5,294.9 473.2,294.9C471,294.9 468.7,292.4 468.2,293.2C467.6,294.1 470.4,298.3 469.8,300C469.3,301.7 466.3,302.5 464.8,303.3C463.2,304.2 461.7,304.1 460.6,305C459.4,305.9 459.2,307.5 458,308.8C456.7,310 454.8,312.1 452.9,312.5C451.1,312.9 448.3,310.9 446.7,311.3C445,311.7 443.7,313.4 442.9,315C442.1,316.7 441.4,319.4 441.6,321.3C441.9,323.2 444.4,324.9 444.2,326.3C443.9,327.8 442.3,329.4 440.4,330.1C438.5,330.8 435.4,330.6 432.9,330.7C430.4,330.8 427.8,330.4 425.3,330.7C422.8,331 420.3,331.9 417.8,332.6C415.3,333.3 412.8,334.4 410.3,335.1C407.8,335.8 404.6,336.6 402.7,337C400.9,337.4 399.4,338.8 399,337.6C398.6,336.5 400.7,331.5 400.2,330.1C399.8,328.7 397.5,328.9 396.5,329.5C395.4,330 396.1,332.8 394,333.2C391.9,333.7 387.1,332.3 383.9,332C380.8,331.7 378.3,331 375.1,331.4C372,331.7 368.4,333 365.1,333.9C361.8,334.7 358.2,335.4 355.1,336.4C351.9,337.3 350.5,339.7 346.3,339.5C342.1,339.3 332.7,323.3 330,335C327.3,346.7 327.3,398.3 330,410C332.7,421.7 342.5,406.2 346.3,405.4C350,404.6 350.9,406.2 352.5,405.4C354.2,404.6 355.6,402.5 356.3,400.4C357,398.3 356.3,394.9 356.9,392.8C357.6,390.7 358.5,389.5 360.1,387.8C361.6,386.1 364.9,384.7 366.4,382.8C367.8,380.9 367.6,378.4 368.9,376.5C370.1,374.6 371.8,373 373.9,371.5C376,370 379.8,368.8 381.4,367.7C383,366.7 381.4,366.5 383.3,365.2C385.2,364 389.9,360.9 392.7,360.2C395.5,359.5 397.7,360.8 400.2,360.8C402.7,360.8 405.3,360.1 407.8,360.2C410.3,360.3 413.2,361.7 415.3,361.5C417.4,361.3 418.2,359.8 420.3,359C422.4,358.1 425.3,356.9 427.8,356.4C430.4,356 432.9,356.7 435.4,356.4C437.9,356.2 440.4,355.5 442.9,355.2C445.4,354.9 447.7,354.6 450.4,354.6C453.1,354.6 455.9,355.1 459.2,355.2C462.5,355.3 467,355 470,355.2C473.1,355.4 475,356.2 477.5,356.5C480,356.8 482.5,356.9 485.1,357.1C487.6,357.3 490.1,357.2 492.6,357.7C495.1,358.3 497.6,359.5 500.1,360.3C502.6,361 505.1,361.6 507.6,362.1C510.2,362.7 512.7,363.5 515.2,363.4C517.7,363.3 520.2,362.2 522.7,361.5C525.2,360.8 527.7,360 530.2,359C532.7,358 535.3,356.4 537.8,355.2C540.3,354.1 542.8,353.1 545.3,352.1C547.8,351.1 550.3,349.9 552.8,349C555.3,348 557.8,347.4 560.4,346.4C562.9,345.5 565.4,344.5 567.9,343.3C570.4,342.2 573.3,340.7 575.4,339.5C577.5,338.4 578.8,337.7 580.4,336.4C582.1,335.2 583.9,333.3 585.4,332C587,330.7 588,330 589.8,328.6C591.7,327.2 594.6,325 596.6,323.6C598.6,322.2 600,321.3 601.6,320.2C603.3,319.1 604.7,317.7 606.7,316.8C608.7,316 611.2,315.7 613.5,315.1C615.7,314.6 618.8,314.6 620.2,313.5C621.6,312.3 622.4,309.8 621.9,308.4C621.3,307 618.2,306.7 616.8,305C615.4,303.3 613.2,300.5 613.5,298.3C613.7,296 617.5,293.8 618.5,291.5C619.5,289.3 619.6,287 619.4,284.8C619.1,282.5 617.8,280.6 616.8,278C615.8,275.5 614.3,272.4 613.5,269.6C612.6,266.8 613.2,262 611.8,261.2C610.4,260.3 607.8,263.7 605,264.6C602.2,265.4 598.6,265.7 594.9,266.2C591.3,266.8 587,267.4 583.1,267.9C579.2,268.5 574.4,270.2 571.3,269.6C568.2,269.1 567.1,264.7 564.5,264.6C562,264.4 558.4,267.5 556.1,268.8C553.9,270 551.2,271.2 551.1,272.1C550.9,273.1 556.5,274.1 555,274.7Z"/><path fill="#ffae17" d="M343.8,355.2C345.2,353.3 349.8,353.9 352.5,353.9C355.3,353.9 358.7,354.1 360.1,355.2C361.4,356.2 360.9,358.5 360.7,360.2C360.5,361.9 359.3,363.6 358.8,365.2C358.3,366.9 358.6,369.2 357.6,370.3C356.5,371.3 354.2,371.7 352.5,371.5C350.9,371.3 349,370 347.5,369C346.1,368 344.4,367.5 343.8,365.2C343.1,362.9 342.3,357.1 343.8,355.2Z"/><path fill="#f7c822" d="M447.9,191.2C447.1,193 444.8,198.6 442.9,202.2C440.9,205.7 437.9,208.9 436.1,212.3C434.3,215.6 432.9,219 431.9,222.4C430.9,225.8 430.2,229.4 430.2,232.5C430.2,235.6 430.9,238.1 431.9,240.9C432.9,243.8 434.3,246.7 436.1,249.4C437.9,252 440.9,254.6 442.9,257C444.8,259.4 446,261.6 447.9,263.7C449.9,265.8 452.4,268.2 454.7,269.6C456.9,271 459.7,271 461.4,272.1C463.1,273.3 462.8,275.9 464.8,276.4C466.8,276.8 470.1,276.1 473.2,274.7C476.3,273.3 481.1,269.9 483.3,267.9C485.6,266 484.7,264.3 486.7,262.9C488.7,261.5 493.2,260.9 495.1,259.5C497.1,258.1 496.3,255.4 498.5,254.4C500.8,253.5 505.3,254 508.6,253.6C512,253.2 515.9,253.2 518.8,251.9C521.6,250.6 523,248.1 525.5,246C528,243.9 531.1,241.2 533.9,239.3C536.7,237.3 539.6,235.6 542.4,234.2C545.2,232.8 548.5,231.8 550.8,230.8C553.1,229.8 553.5,229.3 556.1,228.3C558.7,227.3 563.4,225.2 566.2,224.9C569,224.6 571,226.8 573,226.6C574.9,226.5 576.1,224.5 578,224.1C580,223.7 582,223.7 584.8,224.1C587.6,224.5 591.8,225.8 594.9,226.6C598,227.5 600.2,228.3 603.3,229.1C606.4,230 610.9,230.7 613.5,231.7C616,232.7 616.3,234.1 618.5,235C620.8,236 623.9,237.3 626.9,237.6C630,237.9 634,237 637.1,236.7C640.2,236.4 643,236.9 645.5,235.9C648,234.9 650.6,232.8 652.2,230.8C653.9,228.9 654.6,226.6 655.6,224.1C656.6,221.6 657.4,218.5 658.1,215.6C658.8,212.8 659.7,209.7 659.8,207.2C660,204.7 658.6,202.6 659,200.5C659.4,198.4 661.8,195.6 662.4,194.6L680,145 440,145Z"/><path fill="#f7c822" d="M634.5,254.4C635.2,254 639.3,256 640.4,257.8C641.6,259.6 641.7,264 641.3,265.4C640.9,266.8 638.7,267.1 637.9,266.2C637.1,265.4 636.8,262.3 636.2,260.3C635.7,258.4 633.8,254.9 634.5,254.4Z"/><path fill="#ff960d" d="M735.7,276.4C735.3,277.2 734.2,279.4 733.2,281.4C732.2,283.4 731.2,286.2 729.8,288.2C728.4,290.1 726.7,292.4 724.8,293.2C722.8,294.1 720,292.7 718,293.2C716,293.8 714.6,296.6 712.9,296.6C711.3,296.6 709.9,293.8 707.9,293.2C705.9,292.7 703.1,293.8 701.1,293.2C699.2,292.7 697.8,291.3 696.1,289.8C694.4,288.4 692.7,285.9 691,284.8C689.3,283.7 687.9,283.9 686,283.1C684,282.3 680.6,279.4 679.2,279.7C677.8,280 678.1,282.8 677.5,284.8C677,286.8 676.3,289.3 675.8,291.5C675.4,293.8 675.8,296 675,298.3C674.2,300.5 671.8,302.8 670.8,305C669.8,307.3 668.5,310.1 669.1,311.8C669.7,313.5 672.9,313.5 674.2,315.1C675.4,316.8 676.1,319.1 676.7,321.9C677.3,324.7 676.8,328.6 677.5,332C678.2,335.4 679.9,338.8 680.9,342.1C681.9,345.5 682.6,349.4 683.4,352.2C684.3,355.1 685,356.7 686,359C686.9,361.2 688.5,364.2 689.3,365.7C690.2,367.2 690.5,366.5 691,368C691.6,369.5 692,371.9 692.7,374.7C693.4,377.6 694.4,381.5 695.2,384.9C696.1,388.2 697.1,391.6 697.8,395C698.5,398.4 699.3,401.7 699.5,405.1C699.6,408.5 699.2,411.8 698.6,415.2C698.1,418.6 696.8,422 696.1,425.3C695.4,428.7 695.2,432.6 694.4,435.5C693.6,438.3 692.4,440 691,442.2C689.6,444.4 687.4,446.7 686,448.9C684.6,451.2 683.4,453.4 682.6,455.7C681.8,457.9 681.5,460.2 680.9,462.4C680.3,464.7 680.1,466.9 679.2,469.2C678.4,471.4 677.1,473.4 675.8,475.9C674.6,478.5 673,481.5 671.6,484.4C670.2,487.2 668.7,490 667.4,492.8C666.2,495.6 665.4,498.4 664,501.2C662.6,504 661,507.1 659,509.7C657,512.2 654.8,513.9 652.2,516.4C649.7,518.9 646.6,522.3 643.8,524.8C641,527.4 638.2,529.3 635.4,531.6C632.6,533.8 630,536.2 626.9,538.3C623.9,540.4 620.2,542.4 616.8,544.2C613.5,546 610.1,547.7 606.7,549.3C603.3,550.8 600,552.2 596.6,553.5C593.2,554.8 589.8,555.7 586.5,556.9C583.1,558 579.7,559 576.4,560.2C573,561.5 569,563.1 566.2,564.5C563.4,565.9 561.7,567.3 559.5,568.7C557.2,570.1 555,571.9 552.7,572.9C550.5,573.9 548.3,573.7 546,574.6C543.7,575.4 541,576.9 539,577.9C537,579 534.8,580.3 533.9,580.8L530,590 770,590 770,265Z"/><path fill="#ff7a00" d="M737.4,356.5C737.7,355.6 738.6,355.1 739.1,355.6C739.6,356.2 740.4,358.6 740.3,359.8C740.2,361.1 739.1,363.1 738.6,363.2C738,363.3 737.3,361.8 737.1,360.7C736.9,359.6 737.1,357.3 737.4,356.5Z"/><path fill="#f7c822" d="M401.5,446.8C402.3,444.7 403.4,444.1 405.3,443C407.1,442 410.7,441.4 412.8,440.5C414.9,439.7 416.5,439.1 417.8,438C419.1,437 419.7,435.7 420.3,434.3C420.9,432.8 421.6,430.9 421.6,429.2C421.6,427.6 420.3,426.1 420.3,424.2C420.3,422.3 420.3,419.2 421.6,417.9C422.8,416.7 425.5,417.1 427.8,416.7C430.1,416.3 432.9,415.8 435.4,415.4C437.9,415 440.8,415 442.9,414.2C445,413.3 446.7,411.9 447.9,410.4C449.2,408.9 449.6,407.1 450.4,405.4C451.3,403.7 451.9,402 452.9,400.4C454,398.7 455.2,396.8 456.7,395.4C458.2,393.9 460.3,392.2 461.7,391.6C463.2,391 465.1,390.7 465.5,391.6C465.9,392.4 465.1,394.7 464.2,396.6C463.4,398.5 461.5,400.8 460.5,402.9C459.4,405 458.8,407.5 458,409.2C457.1,410.8 456.7,411.5 455.4,412.9C454.2,414.4 451.5,415.8 450.4,417.9C449.4,420 449.2,423.6 449.2,425.5C449.2,427.3 449.2,429 450.4,429.2C451.7,429.4 454.2,427.8 456.7,426.7C459.2,425.7 462.3,424.4 465.5,423C468.6,421.5 472.4,419.6 475.5,417.9C478.7,416.3 482,414.4 484.3,412.9C486.6,411.5 488.7,410.8 489.3,409.2C490,407.5 488.5,404.8 488.1,402.9C487.7,401 486.4,399.5 486.8,397.9C487.2,396.2 489.1,394.1 490.6,392.8C492,391.6 496.3,388.9 495.6,390.3C494.9,391.8 486.4,401 486.3,401.7C486.2,402.3 492.4,395.2 495.1,394.1C497.8,393.1 500.1,394.8 502.6,395.4C505.1,396 507.9,396.9 510.2,397.9C512.5,398.9 514.8,400.2 516.4,401.7C518.1,403.1 518.7,405.2 520.2,406.7C521.7,408.1 524,409 525.2,410.4C526.5,411.9 527.5,413.8 527.7,415.5C527.9,417.1 527.1,418.8 526.5,420.5C525.8,422.2 524.6,423.4 524,425.5C523.3,427.6 523.3,430.7 522.7,433C522.1,435.3 521.2,437.4 520.2,439.3C519.1,441.2 517.9,442.9 516.4,444.3C515,445.8 512.5,446.3 511.4,448.1C510.4,449.9 510.6,452.9 510.2,455C509.7,457.1 508.3,459.2 508.6,460.7C508.9,462.3 510.3,463.3 512,464.1C513.7,465 516.5,466.1 518.8,465.8C521,465.5 523.2,463.8 525.5,462.4C527.7,461 530.2,458.6 532.2,457.4C534.3,456.1 536.2,456.5 537.8,455C539.3,453.4 540.3,450.3 541.5,448.1C542.8,445.9 544.2,443.7 545.3,441.8C546.3,439.9 547,438.4 547.8,436.8C548.6,435.2 549.7,433.9 550.3,432.4C550.9,430.9 551.1,429.1 551.6,428C552,427 551.4,426.7 552.8,426.1C554.3,425.6 557.8,425.4 560.4,424.9C562.9,424.4 565.2,423.5 567.9,423C570.6,422.5 574.2,422.2 576.7,421.7C579.2,421.3 581.1,421.5 582.9,420.5C584.8,419.4 586.3,417.2 588,415.5C589.6,413.7 591.3,411.3 593,409.8C594.6,408.4 596.3,407.4 598,406.7C599.7,406 601.3,405.5 603,405.4C604.7,405.3 606.4,405.6 608,406.1C609.7,406.5 611.4,407 613.1,407.9C614.7,408.9 616.4,410.2 618.1,411.7C619.7,413.2 621.4,414.8 623.1,416.7C624.8,418.6 626.9,421 628.1,423C629.3,425 629.5,426.6 630.3,428.7C631.1,430.8 632.6,433.2 632.8,435.5C633.1,437.7 632.7,440 632,442.2C631.3,444.4 629.8,446.7 628.6,448.9C627.5,451.2 626.7,453.4 625.3,455.7C623.9,457.9 621.9,460.5 620.2,462.4C618.5,464.4 616.8,465.5 615.1,467.5C613.5,469.5 611.8,472 610.1,474.2C608.4,476.5 607,478.5 605,481C603.1,483.5 600.5,486.9 598.3,489.4C596,491.9 593.5,493.9 591.5,496.2C589.6,498.4 588.4,500.7 586.5,502.9C584.5,505.2 581.7,507.4 579.7,509.7C577.8,511.9 576.6,514.7 574.7,516.4C572.7,518.1 569.9,518.6 567.9,519.8C566,520.9 564.8,522.2 562.9,523.1C560.9,524.1 558.1,524.5 556.1,525.7C554.2,526.8 552.7,528.5 551.1,529.9C549.4,531.3 547.4,533 546,534.1C544.6,535.2 545.8,535.7 542.4,536.6C538.9,537.6 531.1,539 525.5,540C519.9,541 514.3,542 508.6,542.5C503,543.1 497.4,543.5 491.8,543.4C486.1,543.2 480.5,542.5 474.9,541.7C469.3,540.8 463.1,539.7 458,538.3C453,536.9 449.1,535.2 444.6,533.3C440.1,531.3 435.3,528.9 431.1,526.5C426.8,524.1 422.6,521.5 419.3,518.9C415.9,516.4 413.4,514.3 410.8,511.3C408.3,508.4 405.9,504.3 404.1,501.2C402.3,498.1 400.9,495.9 399.9,492.8C398.8,489.7 398,486 397.7,482.7C397.4,479.3 397.9,475.8 398.2,472.6C398.5,469.3 399,466.1 399.4,463.3C399.7,460.5 400,458.4 400.4,455.7C400.7,452.9 400.7,448.9 401.5,446.8Z"/><path fill="#dbc620" d="M444.6,475.9C444.3,474.2 443.1,471.4 443.7,469.2C444.3,466.9 445.8,464.3 447.9,462.4C450,460.6 453.5,458.6 456.4,458.2C459.2,457.8 463.2,458.6 464.8,459.9C466.3,461.2 466.2,464 465.6,465.8C465.1,467.6 463.2,469.2 461.4,470.9C459.6,472.6 456.6,474.2 454.7,475.9C452.7,477.6 451.2,480.4 449.6,481C448.1,481.5 446.2,480.1 445.4,479.3C444.6,478.5 444.8,477.6 444.6,475.9Z"/><path fill="#dbc620" d="M448.8,492.8C448.5,490.5 449.2,488 451.3,486C453.4,484.1 457.5,482 461.4,481C465.4,480 470.7,479.9 474.9,480.1C479.1,480.4 483.1,481.4 486.7,482.7C490.4,483.9 494,485.5 496.8,487.7C499.6,490 502.6,493.4 503.6,496.2C504.6,499 504.1,502.3 502.7,504.6C501.3,506.8 498.4,508.5 495.1,509.7C491.9,510.8 487.3,511.5 483.3,511.3C479.4,511.2 475.2,509.9 471.5,508.8C467.9,507.7 464.5,506.1 461.4,504.6C458.3,503 455.1,501.5 453,499.5C450.9,497.6 449.1,495 448.8,492.8Z"/><path fill="#ff960d" d="M365.3,278C364.9,276.9 369.4,272.3 371.2,271.3C373,270.3 375.1,271.4 376.3,272.1C377.4,272.8 378.4,274.5 377.9,275.5C377.5,276.5 375.8,277.6 373.7,278C371.6,278.5 365.7,279.2 365.3,278Z"/>
</g>
<use href="#coast"/>
<use href="#grid"/>
</g>
<rect x="344" y="165" width="413" height="412.8" fill="none" stroke="#000" stroke-width="1.67"/>
</g>
<g transform="translate(0,990)">
<g clip-path="url(#box)">
<g clip-path="url(#disc)"><circle cx="550.9" cy="372.8" r="206.8" fill="#b6c5fd"/>

<g clip-path="url(#qTL)">
<path fill="#92a8fc" d="M557.5,204.2C555,175.8 546.6,207.3 542.4,208.9C538.1,210.5 535.3,212.1 532.2,214C529.2,215.8 526.6,217.6 523.8,219.9C521,222.1 517.9,225.1 515.4,227.5C512.8,229.8 510.7,232 508.6,234.2C506.5,236.4 504.1,238.4 502.7,240.9C501.3,243.5 500.5,246.7 500.2,249.4C499.9,252 499.9,255 501,257C502.2,258.9 505.1,259.8 506.9,261.2C508.8,262.6 511.4,263.7 512,265.4C512.6,267.1 511.2,269.2 510.3,271.3C509.5,273.4 508.4,275.8 506.9,278C505.5,280.3 503.6,282.8 501.9,284.8C500.2,286.8 499.1,288.4 496.8,289.8C494.6,291.3 491.2,292.6 488.4,293.2C485.6,293.8 482.5,293.3 480,293.6C477.4,293.8 475.8,294.4 473.2,294.9C470.7,295.4 467.6,296 464.8,296.6C462,297.2 459.2,297.6 456.4,298.3C453.5,299 450.5,299.8 447.9,300.8C445.4,301.8 442.6,302.6 441.2,304.2C439.8,305.7 439.5,308.3 439.5,310.1C439.5,311.9 440.5,313.2 441.2,315.1C441.9,317.1 443.4,319.6 443.7,321.9C444,324.1 444.1,326.7 442.9,328.6C441.6,330.6 438.4,332.3 436.1,333.7C433.9,335.1 431.9,336.1 429.4,337.1C426.8,338 422.6,338.5 420.8,339.6C418.9,340.7 418.7,342 418.4,343.5C418.2,344.9 419.8,346.7 419.3,348.2C418.8,349.7 416.8,351.2 415.4,352.2C413.9,353.3 410.9,353.5 410.7,354.4C410.4,355.3 413.1,353.5 413.7,357.6C414.3,361.8 390.2,375.6 414.2,379.2C438.2,382.8 533.6,408.4 557.5,379.2C581.4,350.1 560.1,232.6 557.5,204.2Z"/>
<path fill="#6d8bfb" d="M557.5,255.3C555,244.2 547.1,257.4 542.4,259.5C537.6,261.6 532.2,265.1 528.9,267.9C525.5,270.7 524.4,274.1 522.1,276.4C519.9,278.6 518.8,279.4 515.4,281.4C512,283.4 505.8,286.2 501.9,288.2C498,290.1 495.1,292 491.8,293.2C488.4,294.5 484.5,294.1 481.7,295.8C478.8,297.4 476.6,301.2 474.9,303.3C473.2,305.4 472.5,306.4 471.5,308.4C470.6,310.4 468.9,312.9 469,315.1C469.1,317.4 470.6,319.6 472.4,321.9C474.2,324.1 477.3,326.4 480,328.6C482.6,330.9 485.3,333.4 488.4,335.4C491.5,337.3 495.1,339.2 498.5,340.4C501.9,341.7 505.3,343.2 508.6,343C512,342.7 515.4,340.6 518.8,338.8C522.1,336.9 525.5,333.7 528.9,332C532.2,330.3 534.2,329.6 539,328.6C543.8,327.7 554.4,338.3 557.5,326.1C560.6,313.9 560.1,266.4 557.5,255.3Z"/>
<path fill="#b6c5fd" d="M370.4,379.2C345.8,376.8 372.1,368.4 373.7,364.9C375.3,361.4 376.3,359.6 380,358.3C383.6,357 390.9,357.2 395.6,357C400.4,356.7 403.9,356.6 408.3,356.8C412.7,357 417.6,357.8 422.3,358.3C427,358.8 432.7,358.8 436.5,359.7C440.2,360.5 442.2,362 444.6,363.2C446.9,364.4 448.4,366.5 450.6,366.7C452.9,367 455.2,365.6 458,364.9C460.9,364.2 463.1,362.8 467.5,362.4C471.9,361.9 479.6,362.9 484.5,362.4C489.5,361.8 492.9,358.8 497.2,359C501.5,359.1 507,361.4 510.3,363.2C513.6,365 515.2,367.3 517.1,369.9C518.9,372.6 545.7,377.7 521.3,379.2C496.8,380.8 394.9,381.6 370.4,379.2Z"/>
<path fill="#92a8fc" d="M368.2,379.2C361.4,377.3 367.4,370.8 368.2,367.8C368.9,364.7 371,362.4 372.9,360.8C374.7,359.3 376.9,358.9 379.3,358.5C381.7,358.1 384.4,358.4 387,358.5C389.7,358.6 392.4,358.8 395,359.2C397.6,359.6 400.5,360.1 402.7,360.8C405,361.6 407.3,362.8 408.3,363.9C409.3,364.9 408.9,364.5 409,367.1C409.1,369.6 415.8,377.2 409,379.2C402.2,381.2 375,381.1 368.2,379.2Z"/>
<path fill="#dbe2fe" d="M424.3,379.2C409.2,377.1 426,369.1 428,366.7C430.1,364.4 433.9,364.8 436.5,365.2C439,365.6 440.7,368.5 443.5,369.1C446.4,369.8 449.3,369.8 453.3,369.1C457.3,368.5 462.3,365.9 467.5,365.2C472.7,364.6 479.6,365.8 484.5,365.2C489.5,364.7 493,361.7 497.2,361.9C501.4,362 506.8,364.4 509.8,365.9C512.9,367.4 514.1,368.7 515.5,371C517,373.2 534,377.8 518.8,379.2C503.5,380.6 439.4,381.3 424.3,379.2Z"/>
<path fill="#fefefe" d="M491.8,379.2C489.1,377.7 493.4,371.9 494.3,369.9C495.2,368 495,367.5 497.2,367.4C499.3,367.3 504.9,367.5 507.1,369.4C509.3,371.4 512.9,377.6 510.3,379.2C507.8,380.9 494.4,380.8 491.8,379.2Z"/>
<path fill="#dbe2fe" d="M557.5,196.8C555,203.5 546.3,199.2 542.4,200.5C538.4,201.7 536.7,202.7 533.9,204.2C531.1,205.6 528.3,207.4 525.5,209.2C522.7,211.1 519.9,213.1 517.1,215.3C514.3,217.6 511.2,220.1 508.6,222.7C506.1,225.3 503.9,228.1 501.9,230.8C499.9,233.6 498.4,236.4 496.8,239.3C495.3,242.1 494,244.9 492.6,247.7C491.2,250.5 489.9,253.6 488.4,256.1C486.9,258.7 484.7,260.6 483.3,262.9C481.9,265.1 481.1,267.4 480,269.6C478.8,271.9 478,274.4 476.6,276.4C475.2,278.3 473.5,279.7 471.5,281.4C469.6,283.1 467,284.5 464.8,286.5C462.5,288.4 460.6,291.4 458,293.2C455.5,295 452.4,296.3 449.6,297.4C446.8,298.6 443.7,299.8 441.2,300C438.7,300.1 436.7,299 434.4,298.3C432.2,297.6 429.9,296 427.7,295.8C425.4,295.5 423.2,295.9 420.9,296.6C418.7,297.3 416.4,298.6 414.2,300C412,301.4 409.7,303.6 407.5,305C405.2,306.4 402.4,306.7 400.7,308.4C399,310.1 399,313.2 397.3,315.1C395.6,317.1 393.1,318.7 390.6,320.2C388.1,321.7 385,323 382.2,324.4C379.3,325.8 376.5,327.1 373.7,328.6C370.9,330.2 368.1,332.3 365.3,333.7C362.5,335.1 359.4,336.1 356.9,337.1C354.3,338 352.1,338.9 350.1,339.6C348.2,340.3 346.7,341 345.1,341.3C343.4,341.6 340.8,371.5 340,341.3C339.2,311.1 303.7,190.2 340,160C376.3,129.8 521.3,153.9 557.5,160C593.8,166.1 560.1,190 557.5,196.8Z"/>
<path fill="#dbe2fe" d="M481.7,284.8C481.5,282.7 482.2,280.3 483.3,278C484.5,275.8 486.4,273 488.4,271.3C490.4,269.6 492.9,268.9 495.1,267.9C497.4,266.9 499.6,265.5 501.9,265.4C504.1,265.3 507.4,266 508.6,267.1C509.9,268.2 510,270.6 509.5,272.1C508.9,273.7 506.5,274.5 505.3,276.4C504,278.2 503.3,281 501.9,283.1C500.5,285.2 498.8,287.5 496.8,289C494.9,290.6 492.2,292.1 490.1,292.4C488,292.7 485.6,292 484.2,290.7C482.8,289.4 481.8,286.9 481.7,284.8Z"/>
<path fill="#fefefe" d="M557.5,190.9C555,196.7 546.3,193.6 542.4,194.9C538.4,196.2 536.7,197 533.9,198.4C531.1,199.9 528.3,201.7 525.5,203.5C522.7,205.3 519.9,207.2 517.1,209.4C514.3,211.6 511.4,213.9 508.6,216.5C505.8,219.1 502.6,222.3 500.2,224.9C497.8,227.6 495.8,229.8 494.3,232.5C492.8,235.2 492.1,238.1 490.9,240.9C489.8,243.8 488.8,246.6 487.6,249.4C486.3,252.2 484.9,255.3 483.3,257.8C481.8,260.3 479.7,262.3 478.3,264.6C476.9,266.8 476.3,269.1 474.9,271.3C473.5,273.5 471.8,275.9 469.8,278C467.9,280.2 465.4,282 463.1,283.9C460.9,285.9 458.6,288.2 456.4,289.8C454.1,291.5 452.1,293.1 449.6,294.1C447.1,295 443.7,295.8 441.2,295.8C438.7,295.8 436.7,294.8 434.4,294.1C432.2,293.4 429.9,291.8 427.7,291.5C425.4,291.3 423.2,291.8 420.9,292.4C418.7,292.9 416.4,293.8 414.2,294.9C412,296 409.7,297.7 407.5,299.1C405.2,300.5 403,301.8 400.7,303.3C398.5,304.9 396.2,306.7 394,308.4C391.7,310.1 389.5,311.9 387.2,313.5C385,315 382.7,316.3 380.5,317.7C378.2,319.1 376.3,320.3 373.7,321.9C371.2,323.4 368.1,325.4 365.3,326.9C362.5,328.5 359.4,329.9 356.9,331.2C354.3,332.4 352.9,333.8 350.1,334.5C347.3,335.2 341.7,364.5 340,335.4C338.3,306.3 303.7,189.2 340,160C376.3,130.8 521.3,154.9 557.5,160C593.8,165.1 560.1,185 557.5,190.9Z"/>
<path fill="#fefefe" d="M485,285.6C484.5,283.9 485,281.6 485.9,279.7C486.7,277.9 488.5,275.9 490.1,274.7C491.6,273.4 493.5,273 495.1,272.1C496.8,271.2 498.4,269.8 500.2,269.3C502,268.7 505,268.4 506.1,268.8C507.2,269.2 507.7,270.7 506.9,271.6C506.2,272.6 503.3,273 501.9,274.7C500.5,276.3 499.8,279.3 498.5,281.4C497.3,283.5 495.8,285.9 494.3,287.3C492.8,288.8 490.8,290.5 489.2,290.2C487.7,289.9 485.6,287.4 485,285.6Z"/>
<path fill="#dbe2fe" d="M407.5,249.4C407.5,248.2 412.5,246.2 415.9,245.2C419.3,244.1 423.5,243.3 427.7,243C431.9,242.6 437.2,242.7 441.2,243C445.1,243.2 448.3,243.5 451.3,244.3C454.2,245.1 457.8,246.4 458.9,247.7C460,249 459.9,250.8 458,251.9C456.2,253 451.3,253.5 447.9,254.1C444.6,254.7 441.2,255.4 437.8,255.3C434.4,255.2 431.3,254.1 427.7,253.6C424,253.1 419.3,253.1 415.9,252.4C412.5,251.7 407.5,250.6 407.5,249.4Z"/>
<path fill="#b6c5fd" d="M433.6,251.9C433.9,251.3 438.5,250.7 441.2,250.7C443.9,250.7 448.5,251.4 449.6,251.9C450.7,252.4 449.6,253.3 447.9,253.8C446.2,254.2 441.9,254.7 439.5,254.4C437.1,254.1 433.3,252.5 433.6,251.9Z"/>
<path fill="#ffe1db" d="M557.5,185C555.6,189.6 549.1,186.8 545.7,187.8C542.4,188.9 540.1,189.9 537.3,191.2C534.5,192.5 531.7,193.9 528.9,195.4C526.1,197 523.2,198.6 520.4,200.5C517.6,202.3 514.8,204.5 512,206.4C509.2,208.2 506.4,209.6 503.6,211.4C500.8,213.3 498,215.6 495.1,217.3C492.3,219 489.5,220.3 486.7,221.6C483.9,222.8 481.4,224.1 478.3,224.9C475.2,225.8 471.5,226.2 468.2,226.6C464.8,227 461.4,227 458,227.1C454.7,227.3 451.3,227.3 447.9,227.5C444.6,227.7 440.9,228.4 437.8,228.3C434.7,228.2 432.2,226.8 429.4,226.6C426.6,226.5 423.8,227 420.9,227.5C418.1,227.9 415.3,228.3 412.5,229.1C409.7,230 406.8,231.5 404.1,232.5C401.4,233.5 401.6,234.6 396.5,235C391.4,235.5 377.5,247.5 373.7,235C369.9,222.5 343.1,172.5 373.7,160C404.4,147.5 526.9,155.8 557.5,160C588.2,164.2 559.5,180.3 557.5,185Z"/>
<path fill="#ffe1db" d="M388.9,251.9C398.2,252 393.4,251.8 395.6,252.7C397.9,253.7 400.4,256.4 402.4,257.8C404.4,259.2 405.2,260.5 407.5,261.2C409.7,261.9 413.1,261.6 415.9,262C418.7,262.4 421.8,262.7 424.3,263.7C426.8,264.7 429.1,267.6 431.1,267.9C433,268.2 434.4,266.5 436.1,265.4C437.8,264.3 439.2,262.6 441.2,261.2C443.1,259.8 445.4,258.1 447.9,257C450.5,255.8 453.5,255.3 456.4,254.4C459.2,253.6 462,253 464.8,251.9C467.6,250.8 471,249.2 473.2,247.7C475.5,246.1 476.6,244.5 478.3,242.6C480,240.8 481.7,237.9 483.3,236.7C485,235.6 487.3,235.2 488.4,235.9C489.5,236.6 490.2,239 490.1,240.9C489.9,242.9 488.4,245.4 487.6,247.7C486.7,249.9 486.3,252.2 485,254.4C483.8,256.7 481.7,258.9 480,261.2C478.3,263.4 476.6,265.7 474.9,267.9C473.2,270.2 471.8,272.4 469.8,274.7C467.9,276.9 465.4,279.4 463.1,281.4C460.9,283.4 458.6,284.9 456.4,286.5C454.1,288 452.1,289.7 449.6,290.7C447.1,291.7 443.9,292.4 441.2,292.4C438.5,292.4 435.8,291.7 433.6,290.7C431.3,289.7 429.2,287.5 427.7,286.5C426.1,285.5 425.7,284.8 424.3,284.8C422.9,284.8 421.2,285.8 419.3,286.5C417.3,287.2 414.8,288.2 412.5,289C410.3,289.8 408,290.7 405.8,291.5C403.5,292.4 401.3,293.1 399,294.1C396.8,295 394.5,295.9 392.3,297.4C390,299 387.8,301.5 385.5,303.3C383.3,305.2 381,306.7 378.8,308.4C376.5,310.1 374.3,311.6 372,313.5C369.8,315.3 367.5,317.4 365.3,319.4C363,321.3 360.8,323.4 358.5,325.3C356.3,327.1 354.9,329.5 351.8,330.3C348.7,331.2 342,343.4 340,330.3C338,317.3 331.8,265 340,251.9C348.2,238.8 379.6,251.8 388.9,251.9Z"/>
<path fill="#ffc2b6" d="M557.5,179.9C556.4,183.4 553.3,180.5 550.8,181.1C548.3,181.7 545.2,182.6 542.4,183.6C539.6,184.6 536.7,185.7 533.9,187C531.1,188.2 528.3,189.7 525.5,191.2C522.7,192.7 519.9,194.4 517.1,196.3C514.3,198.1 511.2,200.3 508.6,202.2C506.1,204 504.1,205.6 501.9,207.2C499.6,208.8 497.4,210.5 495.1,211.9C492.9,213.3 490.4,214.9 488.4,215.6C486.4,216.4 485.3,216 483.3,216.5C481.4,217 479.1,218 476.6,218.7C474.1,219.4 471.3,220.2 468.2,220.7C465.1,221.2 461.1,221.7 458,221.9C455,222.1 452.4,221.6 449.6,221.9C446.8,222.2 443.7,223.2 441.2,223.6C438.7,224 436.7,224.6 434.4,224.4C432.2,224.3 430.2,222.9 427.7,222.7C425.2,222.5 421.9,223.5 419.3,223.2C416.6,223 416.4,221.4 411.7,221C406.9,220.7 394.1,231.2 390.6,221C387.1,210.9 362.8,170.2 390.6,160C418.4,149.8 529.7,156.7 557.5,160C585.4,163.3 558.7,176.4 557.5,179.9Z"/>
<path fill="#ffc2b6" d="M377.9,261.2C385,260.3 380.3,257.2 382.2,256.1C384,255 386.7,254.2 388.9,254.4C391.2,254.7 394.1,256.1 395.6,257.8C397.2,259.5 398.5,262.6 398.2,264.6C397.9,266.5 395.2,268.3 394,269.6C392.7,270.9 390.3,271.2 390.6,272.1C390.9,273.1 393.4,275.4 395.6,275.5C397.9,275.7 401.3,273.8 404.1,273C406.9,272.1 409.7,270.7 412.5,270.5C415.3,270.2 418.8,270.3 420.9,271.3C423.1,272.3 424.6,274.7 425.2,276.4C425.7,278 425.3,280 424.3,281.4C423.3,282.8 421.5,284.4 419.3,284.8C417,285.2 413.6,284.4 410.8,283.9C408,283.5 404.9,282.3 402.4,282.3C399.9,282.3 397.9,283 395.6,283.9C393.4,284.9 390.9,286.6 388.9,288.2C386.9,289.7 385.8,291.7 383.8,293.2C381.9,294.8 379.3,295.8 377.1,297.4C374.9,299.1 372.6,301.2 370.4,303.3C368.1,305.4 365.9,307.8 363.6,310.1C361.4,312.3 358.7,314.9 356.9,316.8C355,318.8 355.5,321 352.6,321.9C349.8,322.7 342.1,332 340,321.9C337.9,311.8 333.7,271.3 340,261.2C346.3,251.1 370.9,262 377.9,261.2Z"/>
<path fill="#ffc2b6" d="M447.9,259.5C449.3,257.8 452.1,256.8 454.7,256.1C457.2,255.4 460.9,255 463.1,255.3C465.4,255.6 467.6,256.5 468.2,257.8C468.7,259.1 467.6,261.2 466.5,262.9C465.4,264.6 463.1,266.4 461.4,267.9C459.7,269.5 458.3,271.6 456.4,272.1C454.4,272.7 451.3,272.3 449.6,271.3C447.9,270.3 446.5,268.2 446.2,266.2C446,264.3 446.5,261.2 447.9,259.5Z"/>
<path fill="#ffc2b6" d="M428.5,286.5C428.3,284.6 429.5,282.8 431.1,281.4C432.6,280 435.6,278.3 437.8,278C440.1,277.8 442.3,279.2 444.6,279.7C446.8,280.3 449.1,280.7 451.3,281.4C453.5,282.1 457.2,282.5 458,283.9C458.9,285.4 457.8,288.3 456.4,289.8C455,291.4 452.1,292.5 449.6,293.2C447.1,293.9 444,294.2 441.2,294.1C438.4,293.9 434.9,293.6 432.7,292.4C430.6,291.1 428.8,288.3 428.5,286.5Z"/>
<path fill="#ffc2b6" d="M442.9,273C443,272 445.3,270.3 446.2,270.5C447.2,270.6 448.9,272.8 448.8,273.8C448.6,274.8 446.4,276.5 445.4,276.4C444.4,276.2 442.7,274 442.9,273Z"/>
<path fill="#ffc2b6" d="M474.9,247.7C475.9,245.3 479.7,241.1 481.7,239.3C483.6,237.4 485.5,236.4 486.7,236.7C487.9,237 489,238.8 488.7,240.9C488.5,243.1 486.5,247.1 485,249.4C483.6,251.6 481.5,253.7 480,254.4C478.4,255.1 476.6,254.7 475.8,253.6C474.9,252.5 473.9,250.1 474.9,247.7Z"/>
<path fill="#ffa492" d="M557.5,172.6C556.4,175 553.3,173.4 550.8,174C548.3,174.6 545.2,175.5 542.4,176.4C539.6,177.2 536.7,177.9 533.9,178.9C531.1,179.9 528.3,181 525.5,182.3C522.7,183.6 519.9,185 517.1,186.6C514.3,188.3 511.4,190.2 508.6,192C505.8,193.8 503,195.6 500.2,197.4C497.4,199.3 494.6,201.4 491.8,203C489,204.6 486.1,205.8 483.3,206.9C480.5,208 477.7,209 474.9,209.7C472.1,210.5 469.3,211.2 466.5,211.4C463.7,211.7 461.1,211.7 458,211.4C455,211.2 451,210.3 447.9,209.7C444.8,209.2 441.7,209 439.5,208.1C437.2,207.1 438.4,204.8 434.4,204.2C430.5,203.5 419,211.5 415.9,204.2C412.8,196.8 392.3,167.4 415.9,160C439.5,152.6 533.9,157.9 557.5,160C581.1,162.1 558.7,170.3 557.5,172.6Z"/>
<path fill="#ffa492" d="M371.2,272.6C376.8,273.3 372.5,275.5 373.7,276.4C375,277.3 376.8,277.9 378.8,278C380.8,278.2 384,276.9 385.5,277.2C387.1,277.5 388.1,278.5 388.1,279.7C388.1,281 387.1,283.1 385.5,284.8C384,286.5 381.3,288.2 378.8,289.8C376.3,291.5 372.9,293.2 370.4,294.9C367.8,296.6 365.7,298.3 363.6,300C361.5,301.7 361.6,304.2 357.7,305C353.8,305.9 343,310.4 340,305C337,299.6 334.8,278 340,272.6C345.2,267.3 365.6,272 371.2,272.6Z"/>
<path fill="#ffa492" d="M380.5,262.9C380.6,261.5 381.7,259.4 383,258.7C384.3,257.9 386.9,257.9 388.1,258.7C389.2,259.4 390,261.5 389.7,262.9C389.5,264.3 387.6,266.4 386.4,267.1C385.1,267.8 383.1,267.8 382.2,267.1C381.2,266.4 380.3,264.3 380.5,262.9Z"/>
<path fill="#ffa492" d="M454.7,258.7C455.5,257.7 459.9,257.7 461.4,257.8C463,257.9 464.1,258.7 463.9,259.5C463.8,260.3 461.8,262.2 460.6,262.9C459.3,263.6 457.3,264.4 456.4,263.7C455.4,263 453.8,259.6 454.7,258.7Z"/>
<path fill="#ffa492" d="M435.3,287.3C435.8,286.3 438.1,285.4 439.5,285.6C440.9,285.9 443.4,287.9 443.7,289C444,290.1 442.4,292 441.2,292.4C439.9,292.8 437.1,292.4 436.1,291.5C435.1,290.7 434.7,288.3 435.3,287.3Z"/>
</g>
<g clip-path="url(#qTR)">
<path fill="#92a8fc" d="M537.6,151.6C578.3,110.8 741.3,110.8 782.1,151.6C822.8,192.3 822.8,355.3 782.1,396.1C741.3,436.8 578.3,436.8 537.6,396.1C496.8,355.3 496.8,192.3 537.6,151.6Z"/>
<path fill="#6d8bfb" d="M542.6,261.2C544.9,251.5 552.2,266.1 556.1,267.9C560.1,269.8 562.9,271.4 566.2,272.1C569.6,272.8 573.5,272.6 576.4,272.1C579.2,271.7 580.3,270.3 583.1,269.6C585.9,268.9 589.8,268.5 593.2,267.9C596.6,267.4 600.5,266.2 603.3,266.2C606.1,266.2 609.1,266.2 610.1,267.9C611.1,269.6 608.7,273.5 609.2,276.4C609.8,279.2 612.5,282.3 613.5,284.8C614.4,287.3 614,289.8 615.1,291.5C616.3,293.2 618.8,293.2 620.2,294.9C621.6,296.6 623.2,298.8 623.6,301.7C624,304.5 623,308.7 622.7,311.8C622.4,314.9 622.6,317.7 621.9,320.2C621.2,322.7 620.5,325.3 618.5,326.9C616.5,328.6 613.2,329.5 610.1,330.3C607,331.2 603.3,331.9 600,332C596.6,332.1 593.2,331.7 589.8,331.2C586.5,330.6 582.8,329.3 579.7,328.6C576.6,327.9 574.1,327.6 571.3,326.9C568.5,326.3 565.7,325.3 562.9,324.9C560.1,324.5 557.8,324.2 554.4,324.4C551.1,324.6 544.6,336.6 542.6,326.1C540.7,315.6 540.4,270.9 542.6,261.2Z"/>
<path fill="#b6c5fd" d="M542.6,205.9C545.4,213.3 554.4,203.1 559.5,201.3C564.5,199.6 568.5,197.2 573,195.4C577.5,193.6 582,191.9 586.5,190.4C591,188.8 595.5,187.3 600,186.1C604.5,185 609.2,184 613.5,183.6C617.7,183.2 621.9,183.3 625.3,183.6C628.6,183.9 631.2,186.4 633.7,185.3C636.2,184.2 639.3,181.6 640.4,176.9C641.6,172.1 656.7,160 640.4,156.6C624.1,153.3 558.9,148.4 542.6,156.6C526.3,164.8 539.8,198.4 542.6,205.9Z"/>
<path fill="#dbe2fe" d="M542.6,197.9C545.4,204 554.4,194.7 559.5,192.9C564.5,191.1 568.5,188.8 573,187C577.5,185.2 582,183.3 586.5,181.9C591,180.5 596,179.3 600,178.5C603.9,177.8 607.3,178.1 610.1,177.7C612.9,177.3 615.7,179.5 616.8,176C618,172.5 629.2,159.9 616.8,156.6C604.5,153.4 555,149.7 542.6,156.6C530.3,163.5 539.8,191.9 542.6,197.9Z"/>
<path fill="#fefefe" d="M542.6,192C545.4,196.8 554.4,187.4 559.5,185.3C564.5,183.2 568.5,181.2 573,179.4C577.5,177.6 583.1,175.5 586.5,174.3C589.8,173.2 591,173.2 593.2,172.6C595.5,172.1 598.8,173.6 600,171C601.1,168.3 609.5,159 600,156.6C590.4,154.2 552.2,150.7 542.6,156.6C533.1,162.5 539.8,187.3 542.6,192Z"/>
<path fill="#ffe1db" d="M542.6,186.1C544.9,190.2 552.2,182.6 556.1,181.1C560.1,179.5 562.9,178.3 566.2,176.9C569.6,175.5 573.3,173.8 576.4,172.6C579.4,171.5 582.5,170.5 584.8,169.8C587,169.1 589,170.6 589.8,168.4C590.7,166.2 597.7,158.6 589.8,156.6C582,154.7 550.5,151.7 542.6,156.6C534.8,161.5 540.4,182.1 542.6,186.1Z"/>
<path fill="#ffc2b6" d="M542.6,180.6C544.6,183.9 551.1,178 554.4,176.9C557.8,175.7 560.1,174.6 562.9,173.5C565.7,172.4 568.8,171.3 571.3,170.5C573.8,169.6 576.4,169.1 578,168.4C579.7,167.8 580.9,168.7 581.4,166.7C582,164.8 587.9,158.3 581.4,156.6C574.9,154.9 549.1,152.6 542.6,156.6C536.2,160.6 540.7,177.2 542.6,180.6Z"/>
<path fill="#ffa492" d="M542.6,173.8C544.3,176.2 549.9,171.9 552.7,171C555.6,170.1 557.5,169.1 559.5,168.4C561.5,167.8 563.1,167.6 564.5,167.1C566,166.5 567.4,166.8 567.9,165.1C568.5,163.3 572.1,158 567.9,156.6C563.7,155.2 546.8,153.8 542.6,156.6C538.4,159.5 540.9,171.4 542.6,173.8Z"/>
<path fill="#b6c5fd" d="M605.9,210.6C605.9,208.6 606.8,205.8 608.4,203.8C609.9,201.9 612.9,200.5 615.1,198.8C617.4,197.1 619.9,194.9 621.9,193.7C623.9,192.6 626.2,191.2 626.9,192C627.6,192.9 626.7,196.5 626.1,198.8C625.5,201 624.8,203.6 623.6,205.5C622.3,207.5 620.2,209 618.5,210.6C616.8,212.1 615.1,214 613.5,214.8C611.8,215.6 609.7,216.4 608.4,215.6C607.1,214.9 605.9,212.6 605.9,210.6Z"/>
<path fill="#b6c5fd" d="M570.5,230.8C570.3,229 571.6,227.3 573,226.6C574.4,225.9 577.3,225.9 578.9,226.6C580.4,227.3 582.1,229.1 582.3,230.8C582.4,232.5 581.1,235.6 579.7,236.7C578.3,237.9 575.4,238.6 573.8,237.6C572.3,236.6 570.6,232.7 570.5,230.8Z"/>
<path fill="#b6c5fd" d="M552.7,259.5C552.9,257.9 554,255.8 555.3,255.3C556.5,254.7 559.3,255.1 560.3,256.1C561.4,257.1 561.8,259.6 561.5,261.2C561.2,262.7 559.9,264.8 558.6,265.4C557.4,266 555.1,265.5 554.1,264.6C553.1,263.6 552.5,261 552.7,259.5Z"/>
<path fill="#b6c5fd" d="M569.6,259.5C570,257.8 571.3,254.7 573,252.7C574.7,250.8 576.9,249.2 579.7,247.7C582.5,246.1 586.2,244.3 589.8,243.5C593.5,242.6 598,242.5 601.6,242.6C605.3,242.8 609.2,243.6 611.8,244.3C614.3,245 616.3,245.6 616.8,246.8C617.4,248.1 616.5,250.6 615.1,251.9C613.7,253.2 610.6,253.5 608.4,254.4C606.1,255.4 604.2,257.2 601.6,257.8C599.1,258.4 596,257.5 593.2,257.8C590.4,258.1 587,258.7 584.8,259.5C582.5,260.3 581.4,262 579.7,262.9C578,263.7 576.2,264.6 574.7,264.6C573.1,264.6 571.3,263.7 570.5,262.9C569.6,262 569.2,261.2 569.6,259.5Z"/>
<path fill="#dbe2fe" d="M581.4,251.9C581.8,250.9 583.7,248.7 584.8,248.5C585.9,248.4 587.9,250.1 588.2,251.1C588.4,252 587.5,253.9 586.5,254.4C585.5,255 583.1,254.9 582.3,254.4C581.4,254 581,252.9 581.4,251.9Z"/>
<path fill="#dbe2fe" d="M595.7,246.8C596,245.7 598.6,244.5 600,244.3C601.4,244.2 603.6,245 604.2,246C604.7,247 604.3,249.4 603.3,250.2C602.4,251.1 599.5,251.6 598.3,251.1C597,250.5 595.5,248 595.7,246.8Z"/>
<path fill="#fefefe" d="M598.3,246.8C598.5,246.3 599.7,245.6 600.3,245.7C600.9,245.7 602,246.5 602.2,247C602.3,247.6 601.8,248.7 601.3,249C600.8,249.4 599.5,249.4 599,249C598.4,248.7 598.1,247.4 598.3,246.8Z"/>
<path fill="#b6c5fd" d="M615.1,239.3C615.7,238.1 619.4,238.3 621.9,239.3C624.4,240.2 627.2,243.6 630.3,245.2C633.4,246.7 637.1,247.4 640.4,248.5C643.8,249.7 647.2,251.9 650.6,251.9C653.9,251.9 658.7,248.5 660.7,248.5C662.6,248.5 663.2,250.4 662.4,251.9C661.5,253.5 657.3,255.7 655.6,257.8C653.9,259.9 653.6,262.3 652.2,264.6C650.8,266.8 648.3,269.1 647.2,271.3C646.1,273.5 644.9,275.8 645.5,278C646.1,280.3 649.1,282.3 650.6,284.8C652,287.3 653.9,290.4 653.9,293.2C653.9,296 652.2,299.4 650.6,301.7C648.9,303.9 646.3,305.2 643.8,306.7C641.3,308.3 637.8,310.6 635.4,310.9C633,311.2 630.6,309.9 629.5,308.4C628.3,306.9 627.9,303.6 628.6,301.7C629.3,299.7 633.4,298.3 633.7,296.6C634,294.9 632,292.1 630.3,291.5C628.6,291 625.3,293.8 623.6,293.2C621.9,292.7 620.2,290.1 620.2,288.2C620.2,286.2 623.9,283.4 623.6,281.4C623.3,279.4 619.9,278.3 618.5,276.4C617.1,274.4 615.8,272.1 615.1,269.6C614.4,267.1 614,264 614.3,261.2C614.6,258.4 616.1,255.3 616.8,252.7C617.5,250.2 618.8,248.3 618.5,246C618.2,243.8 614.6,240.4 615.1,239.3Z"/>
<path fill="#dbe2fe" d="M617.7,244.3C618.7,242.9 621.2,243.6 623.6,244.3C626,245 628.9,247.3 632,248.5C635.1,249.8 639.3,250.6 642.1,251.9C644.9,253.2 647.2,254.6 648.9,256.1C650.6,257.7 652.1,259.2 652.2,261.2C652.4,263.1 650.8,266 649.7,267.9C648.6,269.9 646.3,271.3 645.5,273C644.7,274.7 644.1,276.1 644.7,278C645.2,280 647.6,282.3 648.9,284.8C650.1,287.3 652.2,290.7 652.2,293.2C652.2,295.8 650.6,298 648.9,300C647.2,301.9 644.5,303.5 642.1,305C639.7,306.6 636.5,309 634.5,309.2C632.6,309.5 631,308 630.3,306.7C629.6,305.4 629.5,303.3 630.3,301.7C631.2,300 634,298.3 635.4,296.6C636.8,294.9 638.5,292.9 638.7,291.5C639,290.1 638.5,288.7 637.1,288.2C635.7,287.6 632.3,288.2 630.3,288.2C628.3,288.2 626.4,289 625.3,288.2C624.1,287.3 624.1,284.8 623.6,283.1C623,281.4 622.9,279.4 621.9,278C620.9,276.6 618.8,276.4 617.7,274.7C616.5,273 615.6,270.5 615.1,267.9C614.7,265.4 614.7,262 615.1,259.5C615.6,257 617.2,255.3 617.7,252.7C618.1,250.2 616.7,245.7 617.7,244.3Z"/>
<path fill="#fefefe" d="M619.4,256.1C620.8,254.6 622.9,252.9 625.3,251.9C627.6,250.9 630.9,249.9 633.7,250.2C636.5,250.5 639.7,252.3 642.1,253.6C644.5,254.9 646.8,256.3 648,257.8C649.3,259.4 650,261 649.7,262.9C649.4,264.7 647.6,266.8 646.3,268.8C645.1,270.7 643.7,272.7 642.1,274.7C640.6,276.6 639,278.7 637.1,280.6C635.1,282.4 632.3,284.8 630.3,285.6C628.3,286.5 626.4,286.9 625.3,285.6C624.1,284.4 624.8,279.9 623.6,278C622.3,276.2 618.9,276.4 617.7,274.7C616.4,273 616.1,270.2 616,267.9C615.8,265.7 616.3,263.1 616.8,261.2C617.4,259.2 618,257.7 619.4,256.1Z"/>
<path fill="#fefefe" d="M640.4,281.4C641.3,281.4 643.9,283.7 645.5,285.6C647,287.6 649.4,291 649.7,293.2C650,295.5 648.7,297.3 647.2,299.1C645.6,300.9 642.7,302.8 640.4,304.2C638.2,305.6 635.2,307.4 633.7,307.6C632.1,307.7 631,306.3 631.2,305C631.3,303.8 632.8,301.7 634.5,300C636.2,298.3 639.7,296.6 641.3,294.9C642.8,293.2 643.9,291.4 643.8,289.8C643.7,288.3 641,287 640.4,285.6C639.9,284.2 639.6,281.4 640.4,281.4Z"/>
<path fill="#dbe2fe" d="M630.3,265.4C630.8,264.4 632.1,263.3 632.8,263.7C633.5,264.1 634.6,266.7 634.5,267.9C634.4,269.2 633.1,271 632.3,271.3C631.6,271.6 630.3,270.6 630,269.6C629.6,268.6 629.8,266.4 630.3,265.4Z"/>
<path fill="#ffe1db" d="M620.2,262.9C620.6,261.7 622.6,260.7 623.6,260.8C624.6,261 626,262.4 626.1,263.7C626.2,265 625.3,268.1 624.4,268.8C623.6,269.5 621.7,268.9 621,267.9C620.3,266.9 619.8,264 620.2,262.9Z"/>
<path fill="#ffe1db" d="M633.7,256.1C634.1,254.4 636.4,253.8 637.9,254.1C639.5,254.4 641.8,256.3 643,257.8C644.1,259.3 644.8,261.2 644.7,262.9C644.5,264.6 643.2,266.8 642.1,267.9C641,269.1 639,270.2 637.9,269.6C636.8,269.1 636.1,266.8 635.4,264.6C634.7,262.3 633.3,257.9 633.7,256.1Z"/>
<path fill="#ffe1db" d="M626.9,276.4C627.4,275.1 630.3,274.2 631.2,274.7C632,275.1 632.4,277.6 632,278.9C631.6,280.2 629.5,282.7 628.6,282.3C627.8,281.8 626.5,277.6 626.9,276.4Z"/>
<path fill="#ffc2b6" d="M637.9,262C638.4,261.2 640.4,260.8 641.3,261.2C642.1,261.6 643.1,263.4 643,264.6C642.8,265.7 641.2,267.7 640.4,267.9C639.7,268.2 638.8,266.9 638.4,265.9C638,264.9 637.4,262.8 637.9,262Z"/>
<path fill="#b6c5fd" d="M697.8,219C685.7,220 694.4,223 692.7,224.9C691,226.9 689.3,229 687.7,230.8C686,232.7 683.7,233.9 682.6,235.9C681.5,237.9 682,240.4 680.9,242.6C679.8,244.9 677,246.8 675.8,249.4C674.7,251.9 674.2,255 674.2,257.8C674.2,260.6 675,263.4 675.8,266.2C676.7,269.1 678.4,271.9 679.2,274.7C680.1,277.5 680.3,280.3 680.9,283.1C681.5,285.9 682,289.6 682.6,291.5C683.2,293.5 683.2,293.5 684.3,294.9C685.4,296.3 687.7,298 689.3,300C691,301.9 693,304.5 694.4,306.7C695.8,309 697.8,311.2 697.8,313.5C697.8,315.7 695.5,318 694.4,320.2C693.3,322.5 692.1,325.3 691,326.9C689.9,328.6 689.3,330 687.7,330.3C686,330.6 683.2,329.3 680.9,328.6C678.7,327.9 676.4,326.9 674.2,326.1C671.9,325.3 669.4,323.2 667.4,323.6C665.4,324 663.8,326.7 662.4,328.6C661,330.6 660.4,333.7 659,335.4C657.6,337.1 655.9,338.5 653.9,338.8C652,339 649.1,337.6 647.2,337.1C645.2,336.5 643.5,334.8 642.1,335.4C640.7,335.9 639.2,338.5 638.7,340.4C638.3,342.4 638.5,345.5 639.6,347.2C640.7,348.9 643.9,348.9 645.5,350.6C647,352.2 648.6,354.8 648.9,357.3C649.1,359.8 647.7,362.1 647.2,365.7C646.6,369.4 625.8,377 645.5,379.2C665.2,381.5 745.3,405.9 765.2,379.2C785.2,352.5 776.5,245.7 765.2,219C754,192.3 709.9,218 697.8,219Z"/>
<path fill="#dbe2fe" d="M722.2,254.4C713.8,255.3 716.7,257.8 714.6,259.5C712.5,261.2 711.5,263.1 709.6,264.6C707.6,266 705.4,267.4 702.8,267.9C700.3,268.5 696.6,268.8 694.4,267.9C692.1,267.1 690.7,264.8 689.3,262.9C687.9,260.9 687.4,258.1 686,256.1C684.6,254.2 682,251.3 680.9,251.1C679.8,250.8 679.2,252.7 679.2,254.4C679.2,256.1 680.3,258.7 680.9,261.2C681.5,263.7 681.8,266.8 682.6,269.6C683.4,272.4 684.8,275.5 686,278C687.1,280.6 688.2,282.5 689.3,284.8C690.5,287 691.9,289 692.7,291.5C693.6,294.1 693.6,297.4 694.4,300C695.2,302.5 696.6,304.5 697.8,306.7C698.9,309 700,311.2 701.1,313.5C702.3,315.7 703.4,318 704.5,320.2C705.6,322.5 706.5,325 707.9,326.9C709.3,328.9 711.8,330.3 712.9,332C714.1,333.7 714.9,335.4 714.6,337.1C714.4,338.8 712.4,341.8 711.3,342.1C710.1,342.4 709,339.9 707.9,338.8C706.8,337.6 705.6,337.1 704.5,335.4C703.4,333.7 702.5,330.3 701.1,328.6C699.7,326.9 697.5,325.3 696.1,325.3C694.7,325.3 693.8,326.9 692.7,328.6C691.6,330.3 690.7,334.5 689.3,335.4C687.9,336.2 686,334.5 684.3,333.7C682.6,332.8 680.9,331.2 679.2,330.3C677.5,329.5 675.8,329.2 674.2,328.6C672.5,328.1 670.8,326.4 669.1,326.9C667.4,327.5 665.2,330 664,332C662.9,334 663.2,336.8 662.4,338.8C661.5,340.7 660.4,342.7 659,343.8C657.6,344.9 655.3,344.4 653.9,345.5C652.5,346.6 650.6,348.9 650.6,350.6C650.6,352.2 653.6,353.6 653.9,355.6C654.2,357.6 652.8,360.1 652.2,362.4C651.7,364.6 651,366.3 650.6,369.1C650.1,371.9 630.6,377.5 649.7,379.2C668.8,380.9 746,400 765.2,379.2C784.5,358.4 772.4,275.2 765.2,254.4C758.1,233.6 730.7,253.6 722.2,254.4Z"/>
<path fill="#dbe2fe" d="M684.3,239.3C684.6,237.9 686.2,235.2 687.7,234.2C689.1,233.2 691.6,232.8 692.7,233.4C693.8,233.9 694.7,236.2 694.4,237.6C694.1,239 692.4,240.9 691,241.8C689.6,242.6 687.1,243.1 686,242.6C684.8,242.2 684,240.7 684.3,239.3Z"/>
<path fill="#fefefe" d="M688,237.6C688.2,237 689.1,235.9 689.7,235.9C690.3,235.8 691.5,236.7 691.7,237.2C691.9,237.8 691.2,238.9 690.7,239.3C690.2,239.6 689.1,239.5 688.7,239.3C688.2,239 687.8,238.1 688,237.6Z"/>
<path fill="#92a8fc" d="M704.5,339.6C704.6,338.6 706.3,338 707,338.4C707.7,338.8 708.8,340.8 708.7,341.8C708.6,342.7 707.2,344.5 706.5,344.1C705.8,343.8 704.4,340.6 704.5,339.6Z"/>
<path fill="#fefefe" d="M724.8,258.7C716.6,259.6 719.1,262.4 716.3,264.6C713.5,266.7 711,269.6 707.9,271.3C704.8,273 700.6,273.8 697.8,274.7C695,275.5 691.9,275.2 691,276.4C690.2,277.5 692.1,279.4 692.7,281.4C693.3,283.4 693.8,285.9 694.4,288.2C695,290.4 696.1,292.7 696.1,294.9C696.1,297.2 694.1,299.7 694.4,301.7C694.7,303.6 696.4,305 697.8,306.7C699.2,308.4 701.1,309.8 702.8,311.8C704.5,313.7 706.2,316.3 707.9,318.5C709.6,320.8 711.4,323 712.9,325.3C714.5,327.5 716,329.8 717.2,332C718.3,334.3 719.2,336.5 719.7,338.8C720.2,341 720,343 720,345.5C720.1,348 720,351.1 720,353.9C720.1,356.7 720.1,359.6 720.2,362.4C720.3,365.2 720.5,368 720.5,370.8C720.6,373.6 713.1,377.8 720.5,379.2C728,380.6 757.8,399.3 765.2,379.2C772.7,359.1 772,278.7 765.2,258.7C758.5,238.6 732.9,257.7 724.8,258.7Z"/>
<path fill="#fefefe" d="M653.9,353.9C655.5,352 659,352 660.7,350.6C662.4,349.2 662.5,347 664,345.5C665.6,344 668,341.6 669.9,341.3C671.9,341 674.3,342.3 675.8,343.8C677.4,345.4 679.1,348.3 679.2,350.6C679.4,352.8 677.5,355.3 676.7,357.3C675.8,359.3 674,360.7 674.2,362.4C674.3,364 677.3,365.7 677.5,367.4C677.8,369.1 677,371.2 675.8,372.5C674.7,373.7 672.8,373.9 670.8,375C668.8,376.1 667.4,378.5 664,379.2C660.7,379.9 652.7,382 650.6,379.2C648.4,376.4 650.8,366.6 651.4,362.4C652,358.1 652.4,355.9 653.9,353.9Z"/>
<path fill="#fefefe" d="M687.7,355.6C688.4,354.6 690,353.4 691,353.9C692,354.5 693.4,357.2 693.6,359C693.7,360.8 692.9,364 691.9,364.9C690.9,365.7 688.5,364.9 687.7,364C686.8,363.2 686.8,361.2 686.8,359.8C686.8,358.4 686.9,356.6 687.7,355.6Z"/>
<path fill="#fefefe" d="M704.5,359C705.1,357.9 706.9,357.6 707.9,358.1C708.9,358.7 710.4,361 710.4,362.4C710.4,363.8 708.9,366.2 707.9,366.6C706.9,367 705.1,366.2 704.5,364.9C704,363.6 704,360.1 704.5,359Z"/>
<path fill="#ffe1db" d="M653.1,358.1C653.9,356.7 655.9,355.8 657.3,355.6C658.7,355.5 660.7,356.2 661.5,357.3C662.4,358.4 662.8,360.7 662.4,362.4C661.9,364 660.2,366.4 659,367.4C657.7,368.4 655.9,368.8 654.8,368.3C653.6,367.7 652.5,365.7 652.2,364C652,362.4 652.2,359.6 653.1,358.1Z"/>
<path fill="#ffe1db" d="M731.5,271.3C724.8,272.1 727,274.7 724.8,276.4C722.5,278 720.5,280 718,281.4C715.5,282.8 712.4,283.8 709.6,284.8C706.8,285.8 703.1,286.4 701.1,287.3C699.2,288.2 697.8,288.8 697.8,290.2C697.8,291.6 699.9,293.7 701.1,295.8C702.4,297.8 703.8,300.2 705.4,302.5C706.9,304.7 708.9,307.6 710.4,309.2C712,310.9 712.8,312.2 714.6,312.6C716.5,313 719.1,312.1 721.4,311.8C723.6,311.5 726.2,310.8 728.1,310.9C730.1,311.1 731.6,311.6 733.2,312.6C734.7,313.6 736.3,315.3 737.4,316.8C738.5,318.4 739.5,319.9 739.9,321.9C740.4,323.9 740.5,326.4 739.9,328.6C739.4,330.9 737.8,333.3 736.6,335.4C735.3,337.5 733.3,339.3 732.3,341.3C731.4,343.2 730.8,345.1 730.7,347.2C730.5,349.3 730.8,351.4 731.5,353.9C732.2,356.5 733.7,359.6 734.9,362.4C736,365.2 737.4,368 738.2,370.8C739.1,373.6 735.4,377.8 739.9,379.2C744.4,380.6 761,397.2 765.2,379.2C769.4,361.2 770.8,289.3 765.2,271.3C759.6,253.3 738.2,270.5 731.5,271.3Z"/>
<path fill="#ffc2b6" d="M735.7,277.2C729.5,278.2 730.5,281.3 728.1,283.1C725.7,284.9 723.6,286.9 721.4,288.2C719.1,289.4 716.9,289.8 714.6,290.7C712.4,291.5 709.3,292.2 707.9,293.2C706.5,294.2 705.9,294.9 706.2,296.6C706.5,298.3 708.5,301.2 709.6,303.3C710.7,305.4 711.3,308.3 712.9,309.2C714.6,310.2 717.4,309.5 719.7,309.2C721.9,309 724.2,307.7 726.4,307.6C728.7,307.4 731.2,307.7 733.2,308.4C735.2,309.1 736.7,310.1 738.2,311.8C739.8,313.5 741.6,316 742.5,318.5C743.3,321 743.7,324.1 743.3,326.9C742.9,329.8 741.2,332.8 739.9,335.4C738.7,337.9 736.7,339.9 735.7,342.1C734.7,344.4 734,346.6 734,348.9C734,351.1 734.9,353.1 735.7,355.6C736.6,358.1 738,361.2 739.1,364C740.2,366.9 741.8,369.9 742.5,372.5C743.2,375 739.5,378.1 743.3,379.2C747.1,380.3 761.6,396.2 765.2,379.2C768.9,362.2 770.1,294.2 765.2,277.2C760.3,260.2 741.9,276.2 735.7,277.2Z"/>
<path fill="#ffa492" d="M740.8,287.3C735.7,288.3 737,292 734.9,293.2C732.8,294.5 730.4,294.3 728.1,294.9C725.9,295.5 723.3,296 721.4,296.6C719.4,297.2 717.7,297.4 716.3,298.3C714.9,299.1 712.9,300.5 712.9,301.7C712.9,302.8 714.6,304.5 716.3,305C718,305.6 720.8,305.2 723.1,305C725.3,304.9 727.6,304.2 729.8,304.2C732.1,304.2 734.6,304.3 736.6,305C738.5,305.7 740.1,306.7 741.6,308.4C743.2,310.1 744.8,312.6 745.8,315.1C746.8,317.7 747.7,320.8 747.5,323.6C747.4,326.4 746.1,329.5 745,332C743.9,334.5 741.9,336.5 740.8,338.8C739.6,341 738.5,343.2 738.2,345.5C738,347.7 738.4,349.7 739.1,352.2C739.8,354.8 741.3,357.9 742.5,360.7C743.6,363.5 745,366 745.8,369.1C746.7,372.2 744.3,377.5 747.5,379.2C750.7,380.9 762.3,394.5 765.2,379.2C768.2,363.9 769.3,302.6 765.2,287.3C761.1,272 745.8,286.3 740.8,287.3Z"/>
<path fill="#ffa492" d="M725.6,292.4C725.5,291.7 727.1,290.7 727.8,290.7C728.5,290.7 729.8,291.7 729.8,292.4C729.9,293 728.8,294.6 728.1,294.6C727.4,294.6 725.7,293 725.6,292.4Z"/>
<path fill="#ff856d" d="M751.7,327.8C748.8,328.8 748.6,331.6 747.5,333.7C746.4,335.8 745.3,338.2 745,340.4C744.7,342.7 745.3,344.9 745.8,347.2C746.4,349.4 747.5,351.4 748.4,353.9C749.2,356.5 750.2,359.6 750.9,362.4C751.6,365.2 752.2,368 752.6,370.8C753,373.6 751.3,377.8 753.4,379.2C755.5,380.6 763.3,387.8 765.2,379.2C767.2,370.7 767.5,336.4 765.2,327.8C763,319.2 754.7,326.8 751.7,327.8Z"/>
<path fill="#ffe1db" d="M728.6,312.9C721.7,313.6 728.3,315.7 728.2,316.9C728.2,318 727.8,319 728.2,320C728.6,321 729.4,322.6 730.6,323.1C731.8,323.7 734,323.3 735.3,323.1C736.6,323 737.8,321.8 738.4,322.4C739.1,322.9 739.7,324.8 739.2,326.3C738.7,327.7 736.5,329.4 735.3,331C734.1,332.5 733.1,334.1 732.2,335.7C731.2,337.3 730.5,338.7 729.8,340.4C729.2,342.1 728.5,344.1 728.2,345.9C728,347.7 728,349.5 728.2,351.4C728.5,353.2 728.9,355.2 729.8,356.9C730.7,358.6 732.7,359.9 733.7,361.6C734.8,363.3 735.9,365.6 736.1,367.1C736.2,368.5 728.9,369.7 734.5,370.2C740.1,370.7 763.9,379.7 769.8,370.2C775.7,360.7 776.7,322.5 769.8,312.9C762.9,303.4 735.6,312.3 728.6,312.9Z"/>
<path fill="#ffc2b6" d="M738.4,311.5C733.2,312.4 738.4,315.5 738.4,316.9C738.4,318.3 738,319 738.4,320C738.8,321 740.7,321.8 740.8,323.1C740.9,324.4 740,326.1 739.2,327.8C738.4,329.5 737,331.4 736.1,333.3C735.2,335.3 734.6,337.5 733.7,339.6C732.8,341.7 731,343.7 730.6,345.9C730.2,348.1 730.6,351 731.4,352.9C732.2,354.9 734.1,356.1 735.3,357.6C736.5,359.2 738,360.3 738.4,362.4C738.9,364.4 732.8,368.9 738,370.2C743.3,371.5 764.5,380 769.8,370.2C775.1,360.4 775,321.3 769.8,311.5C764.6,301.8 743.7,310.6 738.4,311.5Z"/>
<path fill="#ffa492" d="M744.3,310.2C739.9,311.3 743.7,315.2 743.5,316.9C743.3,318.5 743.5,318.4 743.1,320C742.8,321.6 742.4,324.2 741.6,326.3C740.8,328.4 739.5,330.2 738.4,332.5C737.4,334.9 736.1,338 735.3,340.4C734.5,342.7 733.7,344.7 733.7,346.7C733.7,348.6 734.2,350.6 735.3,352.2C736.3,353.7 738.7,354.6 740,356.1C741.3,357.5 742.4,359.1 743.1,360.8C743.9,362.5 744.5,364.7 744.7,366.3C744.9,367.8 740.1,369.5 744.3,370.2C748.5,370.8 765.6,380.2 769.8,370.2C774.1,360.2 774.1,320.2 769.8,310.2C765.6,300.2 748.7,309.1 744.3,310.2Z"/>
<path fill="#ff856d" d="M755.3,331.8C752,332 751.7,332.7 750.2,333.3C748.7,334 747.1,334.6 746.3,335.7C745.4,336.7 745,338.3 745.1,339.6C745.2,340.9 746.3,342.2 747.1,343.5C747.8,344.8 748.6,345.9 749.4,347.5C750.2,349 751,351.4 751.8,352.9C752.5,354.5 753.4,356.1 754.1,356.9C754.8,357.6 753.5,357.5 756.1,357.6C758.7,357.8 767.5,362 769.8,357.6C772.1,353.3 772.2,336.1 769.8,331.8C767.4,327.5 758.6,331.5 755.3,331.8Z"/>
</g>
<g clip-path="url(#qBL)">
<path fill="#b6c5fd" d="M331.6,359.6C372.3,318.8 535.3,318.8 576.1,359.6C616.8,400.3 616.8,563.3 576.1,604.1C535.3,644.8 372.3,644.8 331.6,604.1C290.8,563.3 290.8,400.3 331.6,359.6Z"/>
<path fill="#92a8fc" d="M368.2,364.6C361.4,365.2 368.6,366.1 368.2,367.8C367.8,369.5 367.2,372.6 365.8,374.9C364.4,377.3 362.2,379.8 359.6,382C356.9,384.2 352.1,386.2 350.1,388.2C348.2,390.3 348.2,390.8 347.8,394.5C347.4,398.1 347.2,406.9 347.8,410.2C348.3,413.4 349.6,413.3 351,414C352.3,414.8 353.6,415.2 355.7,414.9C357.8,414.5 361.2,412.7 363.6,411.8C366,410.9 368,410 369.8,409.5C371.7,408.9 373.1,409.2 374.6,408.6C376,408.1 377.5,407.5 378.4,406.3C379.3,405.1 379.6,403.1 380,401.6C380.4,400 380.8,398.4 380.8,396.8C380.8,395.3 379.5,393.2 380,392.1C380.5,391.1 382.4,391.2 383.8,390.6C385.3,390 388.2,389.2 388.6,388.2C389,387.3 386.3,386.5 386.2,385C386.1,383.6 387.5,381.3 387.9,379.6C388.3,377.9 388.2,376.3 388.6,374.9C389,373.5 389.3,372 390.3,371C391.2,370.1 392.8,369.9 394.1,369.3C395.4,368.8 396.6,368.2 398,367.8C399.4,367.4 400.9,367.1 402.7,367C404.6,366.8 407.9,367.4 409,367C410,366.6 415.8,365 409,364.6C402.2,364.2 375,364.1 368.2,364.6Z"/>
<path fill="#92a8fc" d="M557.5,484.4C556.1,469.2 551.6,486.3 549.1,487.7C546.6,489.1 544.6,490.8 542.4,492.8C540.1,494.8 537.9,497.3 535.6,499.5C533.4,501.8 531.1,504.3 528.9,506.3C526.6,508.2 524.4,509.9 522.1,511.3C519.9,512.7 517.6,513.7 515.4,514.7C513.1,515.7 510.9,516.4 508.6,517.2C506.4,518.1 504.1,519.1 501.9,519.8C499.6,520.5 497.1,520.9 495.1,521.5C493.2,522 491.2,522 490.1,523.1C489,524.3 489.5,527.1 488.4,528.2C487.3,529.3 484.7,529.2 483.3,529.9C481.9,530.6 480,531 480,532.4C480,533.8 481.9,536.2 483.3,538.3C484.7,540.4 486.4,542.8 488.4,545.1C490.4,547.3 492.9,549.8 495.1,551.8C497.4,553.8 499.6,555.2 501.9,556.9C504.1,558.6 506.4,560.4 508.6,561.9C510.9,563.5 513.1,564.9 515.4,566.1C517.6,567.4 519.9,568.5 522.1,569.5C524.4,570.5 526.6,571.2 528.9,572C531.1,572.9 533.4,573.9 535.6,574.6C537.9,575.3 539.8,575.7 542.4,576.3C544.9,576.8 548.3,577.5 550.8,577.9C553.3,578.4 556.4,594.4 557.5,578.8C558.7,563.2 558.9,499.5 557.5,484.4Z"/>
<path fill="#dbe2fe" d="M431.1,364.6C408.9,365.5 426.7,367.5 424.3,369.7C421.9,371.9 419.1,374.9 416.7,377.9C414.3,381 411.9,384.9 410,388.2C408.1,391.5 406.7,394.6 405.4,397.7C404.2,400.8 403.3,404.1 402.4,406.8C401.5,409.5 401.8,412.3 399.9,413.9C397.9,415.4 393.5,415.3 390.6,416.1C387.6,416.8 385,417.3 382.2,418.6C379.3,419.9 376.5,421.7 373.7,423.6C370.9,425.6 367.7,428.1 365.3,430.4C362.9,432.6 360.5,434.6 359.4,437.1C358.3,439.7 358.1,442.5 358.5,445.6C359,448.7 360.2,452.9 361.9,455.7C363.6,458.5 366.1,460.5 368.7,462.4C371.2,464.4 375.1,465.8 377.1,467.5C379.1,469.2 379.1,470.9 380.5,472.6C381.9,474.2 383.6,476.8 385.5,477.6C387.5,478.5 390.6,478.5 392.3,477.6C394,476.8 394.7,474.5 395.6,472.6C396.6,470.6 397.6,468.6 398.2,465.8C398.7,463 397.8,458.8 399,455.7C400.3,452.6 403.5,449.8 405.8,447.3C408,444.7 410.5,440.8 412.5,440.5C414.5,440.2 415.9,443.3 417.6,445.6C419.3,447.8 421.5,451.2 422.6,454C423.8,456.8 423.5,459.6 424.3,462.4C425.2,465.2 426.3,468.1 427.7,470.9C429.1,473.7 431.1,476.8 432.7,479.3C434.4,481.8 436.1,483.5 437.8,486C439.5,488.6 440.9,491.9 442.9,494.5C444.8,497 447.1,499.4 449.6,501.2C452.1,503 455.5,504.2 458,505.4C460.6,506.7 462.3,508.9 464.8,508.8C467.3,508.7 470.4,505.7 473.2,504.6C476,503.5 478.6,502.3 481.7,502.1C484.7,501.8 488.4,503 491.8,502.9C495.1,502.8 498.5,502.1 501.9,501.2C505.3,500.4 508.6,499 512,497.8C515.4,496.7 519,495.9 522.1,494.5C525.2,493.1 528,491.1 530.6,489.4C533.1,487.7 535.1,486 537.3,484.4C539.6,482.7 541.8,480.7 544,479.3C546.3,477.9 548.5,476.8 550.8,475.9C553,475.1 556.4,492.8 557.5,474.2C558.7,455.7 578.6,382.9 557.5,364.6C536.5,346.4 453.3,363.8 431.1,364.6Z"/>
<path fill="#dbe2fe" d="M404.1,513.9C404.8,513.2 408.3,514.3 410.8,515.6C413.4,516.8 416.2,519.6 419.3,521.5C422.3,523.3 426.3,525.1 429.4,526.5C432.5,527.9 435.8,528.5 437.8,529.9C439.8,531.3 439.2,533.5 441.2,534.9C443.1,536.4 447.1,536.9 449.6,538.3C452.1,539.7 454.4,541.4 456.4,543.4C458.3,545.3 461.1,548.7 461.4,550.1C461.7,551.5 459.7,552.4 458,551.8C456.4,551.2 453.5,548.2 451.3,546.8C449.1,545.3 447.1,544.5 444.6,543.4C442,542.3 438.9,541.4 436.1,540C433.3,538.6 430.5,536.6 427.7,534.9C424.9,533.3 421.8,531.6 419.3,529.9C416.7,528.2 414.6,526.5 412.5,524.8C410.4,523.1 408,521.6 406.6,519.8C405.2,517.9 403.4,514.6 404.1,513.9Z"/>
<path fill="#b6c5fd" d="M513.7,364.6C506.7,365.7 514.1,367.2 515.5,370.9C517,374.5 520.6,383.1 522.6,386.5C524.7,390 526.1,390.5 528,391.6C529.9,392.7 531.8,393.9 533.9,393.3C536,392.7 538.4,389.5 540.7,388.2C542.9,387 544.6,386.1 547.4,385.7C550.2,385.3 555.9,389.2 557.5,385.7C559.2,382.2 564.8,368.1 557.5,364.6C550.2,361.1 520.7,363.6 513.7,364.6Z"/>
<path fill="#fefefe" d="M497.2,367.5C493.4,368.4 488.8,373.5 484.5,375.3C480.3,377 475.9,377.9 471.7,377.9C467.5,377.9 463.7,375 459.1,375.3C454.4,375.5 448.5,377.6 443.5,379.5C438.6,381.4 433.8,383.5 429.4,386.5C424.9,389.6 420.8,394.2 416.7,397.7C412.7,401.2 406.5,404.7 404.9,407.6C403.4,410.6 406.5,412.5 407.5,415.2C408.4,417.9 409.7,420.8 410.8,423.6C412,426.5 412.8,430.1 414.2,432.1C415.6,434 417.6,434.3 419.3,435.5C420.9,436.6 422.3,437.7 424.3,438.8C426.3,440 429.4,440.5 431.1,442.2C432.7,443.9 434,446.7 434.4,448.9C434.9,451.2 434,453.4 433.6,455.7C433.2,457.9 431.8,459.9 431.9,462.4C432,465 433.3,468.1 434.4,470.9C435.6,473.7 437,476.8 438.7,479.3C440.3,481.8 442.4,483.8 444.6,486C446.7,488.3 449.1,490.8 451.3,492.8C453.5,494.8 455.5,496.4 458,497.8C460.6,499.3 463.7,501.1 466.5,501.2C469.3,501.4 472.1,499.3 474.9,498.7C477.7,498.1 480.5,497.7 483.3,497.8C486.1,498 489,499.7 491.8,499.5C494.6,499.4 497.4,498 500.2,497C503,496 505.8,494.9 508.6,493.6C511.4,492.4 514.3,491 517.1,489.4C519.9,487.9 523.2,486 525.5,484.4C527.7,482.7 528.9,481 530.6,479.3C532.2,477.6 533.6,475.9 535.6,474.2C537.6,472.6 540.1,470.6 542.4,469.2C544.6,467.8 546.6,466.5 549.1,465.8C551.6,465.1 556.1,476.5 557.5,465C558.9,453.4 559.1,408.1 557.5,396.7C556,385.2 550.8,395.9 548.3,396.3C545.7,396.8 543.9,398.3 542.4,399.2C540.8,400.1 541.8,402.4 539,401.7C536.2,401 528.6,397.1 525.5,395C522.4,392.9 522.1,392.3 520.4,389.2C518.8,386.2 517.8,379.9 515.5,376.6C513.3,373.3 510.2,371 507.1,369.5C504.1,368 500.9,366.5 497.2,367.5Z"/>
<path fill="#dbe2fe" d="M466.5,393.3C467.5,392 471.1,391.3 473.2,391.6C475.3,391.9 478.3,393.4 479.1,395C480,396.5 479.5,399.8 478.3,400.9C477,402 473.4,402 471.5,401.7C469.7,401.4 468.2,400.6 467.3,399.2C466.5,397.8 465.5,394.6 466.5,393.3Z"/>
<path fill="#fefefe" d="M394,447.3C394.4,445.7 397.1,443.9 399,443C401,442.2 404.4,441.8 405.8,442.2C407.2,442.6 408,444.2 407.5,445.6C406.9,447 404.2,449.5 402.4,450.6C400.6,451.8 397.9,452.9 396.5,452.3C395.1,451.8 393.5,448.8 394,447.3Z"/>
<path fill="#dbe2fe" d="M438.7,375.6C438.9,374.5 442.2,372.9 444.6,372.2C446.9,371.5 451,371 453,371.4C455,371.8 456.9,373.6 456.4,374.7C455.8,375.9 451.9,377.4 449.6,378.1C447.4,378.8 444.7,379.4 442.9,379C441,378.5 438.4,376.7 438.7,375.6Z"/>
<path fill="#dbe2fe" d="M464.8,401.7C465.5,400.9 468.4,400.6 469.8,400.9C471.3,401.2 473.2,402.4 473.2,403.4C473.2,404.4 471.1,406.4 469.8,406.8C468.6,407.2 466.5,406.8 465.6,405.9C464.8,405.1 464.1,402.6 464.8,401.7Z"/>
<path fill="#ffe1db" d="M488.7,399.2C487.9,401.3 486.1,404.4 485,407.3C483.9,410.2 483.9,413.7 482,416.7C480.1,419.7 476,422.8 473.7,425.3C471.5,427.9 471.3,429.8 468.5,432.1C465.7,434.4 460.1,436.2 456.7,439C453.3,441.8 450.7,445.2 448.3,449.1C445.8,453 443.4,458.6 441.9,462.4C440.3,466.2 439,468.7 438.8,471.9C438.7,475 439.8,478.6 440.8,481.3C441.9,484 442.6,487.2 445.2,488.1C447.8,489 452.8,487.2 456.4,486.7C459.9,486.2 463.4,485.7 466.5,485.2C469.6,484.8 472.1,484.1 474.9,484C477.7,483.9 480.5,484.9 483.3,484.7C486.1,484.5 489,483 491.8,482.7C494.6,482.4 497,483.6 500.2,483C503.4,482.4 507.8,481.2 511.2,479.3C514.5,477.4 518,474.7 520.1,471.7C522.2,468.8 522.7,464.7 523.8,461.6C524.9,458.5 525.6,456 526.5,453.2C527.5,450.3 528.5,447.6 529.5,444.7C530.6,441.8 532.1,438.7 532.9,435.8C533.8,432.9 533.8,429.9 534.6,427.4C535.4,424.8 536.5,422.5 537.6,420.3C538.8,418 541.3,416.5 541.7,413.9C542.1,411.2 541.6,407 540,404.4C538.4,401.9 535.2,400.1 532.2,398.7C529.3,397.3 525.2,397 522.1,396.2C519,395.3 516.6,394.3 513.7,393.6C510.7,392.9 507.2,392.5 504.4,391.9C501.6,391.4 499.2,389.8 496.8,390.3C494.4,390.7 491.4,393.2 490.1,394.6C488.7,396.1 489.6,397.1 488.7,399.2Z"/>
<path fill="#ffe1db" d="M532.9,426.2C533.3,422.7 534.6,422.7 534.9,426.2C535.3,429.7 535.3,443.7 534.9,447.3C534.6,450.8 533.3,450.8 532.9,447.3C532.6,443.7 532.6,429.7 532.9,426.2Z"/>
<path fill="#ffe1db" d="M537.3,426.2C537.6,422.7 539,422.7 539.3,426.2C539.7,429.7 539.7,443.7 539.3,447.3C539,450.8 537.6,450.8 537.3,447.3C537,443.7 537,429.7 537.3,426.2Z"/>
<path fill="#ffe1db" d="M541.7,426.2C542,422.7 543.4,422.7 543.7,426.2C544,429.7 544,443.7 543.7,447.3C543.4,450.8 542,450.8 541.7,447.3C541.3,443.7 541.3,429.7 541.7,426.2Z"/>
<path fill="#ffe1db" d="M546.1,426.2C546.4,422.7 547.8,422.7 548.1,426.2C548.4,429.7 548.4,443.7 548.1,447.3C547.8,450.8 546.4,450.8 546.1,447.3C545.7,443.7 545.7,429.7 546.1,426.2Z"/>
<path fill="#ffe1db" d="M550.5,426.2C550.8,422.7 552.1,422.7 552.5,426.2C552.8,429.7 552.8,443.7 552.5,447.3C552.1,450.8 550.8,450.8 550.5,447.3C550.1,443.7 550.1,429.7 550.5,426.2Z"/>
<path fill="#ffe1db" d="M422.6,416.9C423.2,415.5 426.8,414.9 429.4,413.5C431.9,412.1 435.3,410.2 437.8,408.5C440.3,406.8 442.3,405.4 444.6,403.4C446.8,401.4 449.1,398.8 451.3,396.7C453.5,394.6 455.8,392.5 458,390.8C460.3,389.1 462.7,387.4 464.8,386.5C466.9,385.7 469.8,384.9 470.7,385.7C471.5,386.5 470.7,389.5 469.8,391.6C469,393.7 467,396.1 465.6,398.4C464.2,400.6 463,402.9 461.4,405.1C459.9,407.3 458,409.6 456.4,411.8C454.7,414.1 452.7,416.3 451.3,418.6C449.9,420.8 449.6,423.8 447.9,425.3C446.2,426.9 443.1,428.1 441.2,427.9C439.2,427.6 437.8,424.6 436.1,423.6C434.4,422.7 432.7,422.2 431.1,422C429.4,421.7 427.4,422.8 426,422C424.6,421.1 422.1,418.3 422.6,416.9Z"/>
<path fill="#ffe1db" d="M488.4,381.5C488.5,380.2 490.1,378.1 491.8,377.3C493.5,376.4 496.3,376.9 498.5,376.4C500.8,376 503.3,375.3 505.3,374.7C507.2,374.2 508.6,372.8 510.3,373.1C512,373.3 514,374.7 515.4,376.4C516.8,378.1 518,381.2 518.8,383.2C519.5,385.1 520.4,387.1 519.6,388.2C518.8,389.4 516.1,389.8 513.7,389.9C511.3,390.1 508.1,389.6 505.3,389.1C502.5,388.5 499.2,387.3 496.8,386.5C494.4,385.8 492.3,385.7 490.9,384.9C489.5,384 488.3,382.8 488.4,381.5Z"/>
<path fill="#ffe1db" d="M492.6,371.4C493,370.3 495.4,368.8 496.8,368.8C498.2,368.8 500.6,370.2 501,371.4C501.5,372.5 500.5,375 499.4,375.6C498.2,376.2 495.4,375.8 494.3,375.1C493.2,374.4 492.2,372.4 492.6,371.4Z"/>
<path fill="#ffc2b6" d="M489.1,400C488.2,402 486.6,404.6 485.5,407.5C484.4,410.3 484.4,414 482.5,417.1C480.6,420.1 476.6,423.3 474.4,425.8C472.2,428.4 472,430.3 469.2,432.6C466.3,434.9 460.7,436.7 457.4,439.5C454,442.3 451.4,445.8 448.9,449.6C446.5,453.4 444.2,458.8 442.7,462.4C441.2,466.1 439.8,468.6 439.7,471.5C439.5,474.5 440.8,477.9 441.9,480.3C442.9,482.7 443.5,485.4 445.9,486C448.3,486.7 452.9,484.8 456.4,484C459.8,483.2 463.4,482.1 466.5,481.3C469.6,480.6 472.1,479.7 474.9,479.6C477.7,479.5 480.5,480.8 483.3,480.6C486.1,480.5 489,478.7 491.8,478.5C494.6,478.2 497.1,479.7 500.2,479.3C503.3,478.9 507.4,477.6 510.3,475.9C513.3,474.3 516.1,472.1 517.9,469.5C519.7,466.9 520.2,463.3 521.3,460.4C522.3,457.5 523.1,455.1 524.1,452.3C525.2,449.6 526.4,446.8 527.5,443.9C528.6,441 530.1,438 530.9,435.1C531.7,432.2 531.8,429.3 532.6,426.7C533.4,424.1 534.5,421.8 535.6,419.6C536.7,417.4 539,415.9 539.3,413.5C539.7,411.2 539,407.7 537.6,405.4C536.2,403.2 533.5,401.3 530.9,400C528.3,398.7 525,398.5 522.1,397.7C519.3,396.9 516.6,395.9 513.7,395.2C510.7,394.4 507.2,394 504.4,393.5C501.6,392.9 499.1,391.6 496.8,391.9C494.6,392.3 492.2,394.5 490.9,395.8C489.6,397.2 490,398.1 489.1,400Z"/>
<path fill="#ffc2b6" d="M434.4,418.6C435,416.9 438.9,415.5 441.2,413.5C443.4,411.6 446,409 447.9,406.8C449.9,404.5 451.3,402 453,400C454.7,398.1 456.4,396.4 458,395C459.7,393.6 462.1,391.5 463.1,391.6C464.1,391.7 464.4,394.1 463.9,395.8C463.5,397.5 461.8,399.6 460.6,401.7C459.3,403.8 457.8,406.2 456.4,408.5C455,410.7 453.5,413 452.1,415.2C450.7,417.5 449.5,420.3 447.9,422C446.4,423.6 444.6,425.1 442.9,425.3C441.2,425.6 439.2,424.8 437.8,423.6C436.4,422.5 433.9,420.3 434.4,418.6Z"/>
<path fill="#ffc2b6" d="M491.8,382.3C492.2,381.4 494.9,379.8 496.8,379C498.8,378.1 501.3,377.8 503.6,377.3C505.8,376.7 508.5,375.4 510.3,375.6C512.1,375.7 513.4,376.7 514.5,378.1C515.7,379.5 516.8,382.4 517.1,384C517.3,385.7 517.6,387.3 516.2,387.9C514.8,388.5 511.3,388.3 508.6,387.9C506,387.5 502.6,386.2 500.2,385.7C497.8,385.2 495.7,385.4 494.3,384.9C492.9,384.3 491.3,383.3 491.8,382.3Z"/>
<path fill="#ffa492" d="M489.2,400.9C488.3,402.7 487.1,404.9 486,407.6C485,410.4 484.9,414.3 483,417.4C481.1,420.5 477.1,423.6 474.9,426.2C472.7,428.8 472.7,430.6 469.8,432.9C467,435.2 461.4,437.1 458,440C454.7,442.9 452,446.4 449.6,450.1C447.2,453.9 445.1,458.9 443.5,462.4C442,465.9 440.6,468.4 440.5,471.2C440.4,474 441.9,477.1 442.9,479.3C443.9,481.5 444.3,484 446.6,484.4C448.8,484.7 453,482.4 456.4,481.3C459.7,480.3 463.4,478.8 466.5,477.9C469.6,477.1 472.1,476.1 474.9,475.9C477.7,475.7 480.5,477 483.3,476.8C486.1,476.5 489,474.7 491.8,474.6C494.6,474.4 497.4,476.2 500.2,475.9C503,475.6 506.1,474.3 508.6,472.9C511.2,471.5 513.6,469.8 515.4,467.5C517.1,465.2 518,461.7 519.1,459.1C520.2,456.4 521.1,454.1 522.1,451.5C523.2,448.8 524.4,445.9 525.5,443C526.6,440.2 528,437.4 528.9,434.6C529.7,431.8 529.7,428.8 530.6,426.2C531.4,423.6 532.9,421.1 533.9,418.9C535,416.8 536.7,415.3 537,413.2C537.2,411.1 536.8,408.4 535.6,406.4C534.4,404.5 532,402.6 529.7,401.4C527.5,400.2 524.8,400 522.1,399.2C519.5,398.4 516.6,397.4 513.7,396.7C510.7,396 507.2,395.5 504.4,395C501.6,394.5 499,393.3 496.8,393.6C494.7,394 492.7,395.8 491.4,397C490.2,398.2 490.1,399.1 489.2,400.9Z"/>
<path fill="#ffa492" d="M441.2,420.3C441.6,418.9 444.1,416.5 445.4,416.1C446.7,415.6 448.6,416.6 448.8,417.7C448.9,418.9 447.2,421.7 446.2,422.8C445.3,423.9 443.7,424.9 442.9,424.5C442,424.1 440.8,421.7 441.2,420.3Z"/>
<path fill="#ffa492" d="M504.4,378.1C505.4,377.1 508.8,376.6 510.3,376.8C511.9,376.9 512.8,377.8 513.7,379C514.6,380.2 515.6,382.7 515.7,384C515.9,385.3 515.7,386.5 514.5,386.9C513.4,387.3 510.3,387.2 508.6,386.5C506.9,385.9 505.1,384.6 504.4,383.2C503.7,381.8 503.4,379.2 504.4,378.1Z"/>
<path fill="#ff856d" d="M489.2,401.7C488.4,403.3 487.6,405 486.7,407.6C485.8,410.3 485.5,414.6 483.7,417.7C481.8,420.9 477.9,424.1 475.8,426.7C473.6,429.3 473.5,431.1 470.7,433.4C467.9,435.7 462.3,437.6 458.9,440.5C455.5,443.4 452.8,447 450.5,450.6C448.1,454.3 446,459.1 444.6,462.4C443.1,465.8 441.6,468.2 441.5,470.9C441.5,473.5 443.3,476.5 444.2,478.5C445.1,480.4 445.3,482.5 447.1,482.3C448.8,482.2 451.7,479.1 454.7,477.6C457.6,476.1 462,474.7 464.8,473.4C467.6,472 469,469.9 471.5,469.5C474.1,469.2 476.6,471.5 480,471.2C483.3,470.9 488.4,468.1 491.8,467.8C495.1,467.6 497.4,469.6 500.2,469.5C503,469.4 506.5,468.1 508.6,467.2C510.7,466.3 511.6,465.8 512.8,464.1C514.1,462.5 515.1,459.6 516.2,457.4C517.3,455.1 518.5,453.2 519.6,450.6C520.7,448.1 521.8,445 523,442.2C524.1,439.4 525.5,436.6 526.3,433.8C527.2,431 527.2,427.9 528,425.3C528.9,422.8 530.4,420.7 531.4,418.6C532.4,416.5 533.8,414.7 533.9,412.7C534.1,410.7 533.2,408.5 532.2,406.8C531.3,405.1 529.7,403.6 528,402.6C526.3,401.6 524.5,401.6 522.1,400.9C519.7,400.2 516.6,399.1 513.7,398.4C510.7,397.7 507.2,397.1 504.4,396.7C501.6,396.2 498.9,395.5 496.8,395.8C494.7,396.1 493,397.4 491.8,398.4C490.5,399.3 490.1,400.2 489.2,401.7Z"/>
<path fill="#ff6749" d="M477.4,459.9C478,458.6 480,457.8 481.7,457.4C483.3,457 486.1,456.8 487.6,457.4C489,457.9 490.2,459.3 490.1,460.7C489.9,462.2 488.1,464.7 486.7,465.8C485.3,466.9 483.1,467.6 481.7,467.5C480.2,467.4 479,466.2 478.3,465C477.6,463.7 476.9,461.2 477.4,459.9Z"/>
<path fill="#ff6749" d="M493.5,458.2C494,456.8 497.1,454.4 498.5,453.2C499.9,451.9 501.2,450.5 501.9,450.6C502.6,450.8 503.2,452.6 502.7,454C502.3,455.4 500.6,457.8 499.4,459.1C498.1,460.3 496.1,461.7 495.1,461.6C494.2,461.5 492.9,459.6 493.5,458.2Z"/>
<path fill="#ff6749" d="M516.2,437.1C516.6,436.7 518.3,436.1 518.8,436.3C519.2,436.5 519.4,438 519.1,438.5C518.8,439 517.2,439.4 516.7,439.2C516.3,438.9 515.9,437.6 516.2,437.1Z"/>
</g>
<g clip-path="url(#qBR)">
<path fill="#b6c5fd" d="M537.6,359.6C578.3,318.8 741.3,318.8 782.1,359.6C822.8,400.3 822.8,563.3 782.1,604.1C741.3,644.8 578.3,644.8 537.6,604.1C496.8,563.3 496.8,400.3 537.6,359.6Z"/>
<path fill="#92a8fc" d="M542.6,484.4C544.9,469 552.2,480.4 556.1,479.3C560.1,478.2 562.9,478.2 566.2,477.6C569.6,477.1 574.1,474.5 576.4,475.9C578.6,477.3 578.9,482.7 579.7,486C580.6,489.4 580.3,494.5 581.4,496.2C582.5,497.8 584.5,496.6 586.5,496.2C588.4,495.7 591.8,495.3 593.2,493.6C594.6,491.9 594.1,488.4 594.9,486C595.7,483.7 596.6,481 598.3,479.3C600,477.6 602.8,476.5 605,475.9C607.3,475.4 610.4,477.1 611.8,475.9C613.2,474.8 612,470.9 613.5,469.2C614.9,467.5 618.8,467.5 620.2,465.8C621.6,464.1 620.2,460.7 621.9,459.1C623.6,457.4 627.2,456.1 630.3,455.7C633.4,455.3 637.6,456 640.4,456.5C643.2,457.1 644.7,458.5 647.2,459.1C649.7,459.6 652.8,459.9 655.6,459.9C658.4,459.9 662.1,458.4 664,459.1C666,459.8 666.3,462.2 667.4,464.1C668.5,466.1 669.8,468.6 670.8,470.9C671.8,473.1 673.2,475.6 673.3,477.6C673.5,479.6 671.5,480.7 671.6,482.7C671.8,484.6 673.5,487.2 674.2,489.4C674.9,491.7 675,493.9 675.8,496.2C676.7,498.4 678.4,500.4 679.2,502.9C680.1,505.4 680.1,508.8 680.9,511.3C681.8,513.9 683.4,515.8 684.3,518.1C685.1,520.3 686.2,522.9 686,524.8C685.7,526.8 684,528.2 682.6,529.9C681.2,531.6 679.5,533.3 677.5,534.9C675.6,536.6 673,538.5 670.8,540C668.5,541.6 666.6,542.8 664,544.2C661.5,545.6 658.4,547.3 655.6,548.4C652.8,549.6 650.3,550.1 647.2,551C644.1,551.8 640.4,552.8 637.1,553.5C633.7,554.2 630,554.3 626.9,555.2C623.9,556 621.6,557.7 618.5,558.6C615.4,559.4 612,559.5 608.4,560.2C604.7,560.9 600.2,561.9 596.6,562.8C592.9,563.6 589.8,564.5 586.5,565.3C583.1,566.1 579.7,567.1 576.4,567.8C573,568.5 569.6,569.1 566.2,569.5C562.9,569.9 560.1,570.1 556.1,570.4C552.2,570.6 544.9,585.5 542.6,571.2C540.4,556.9 540.4,499.7 542.6,484.4Z"/>
<path fill="#92a8fc" d="M564.5,364.6C550.8,366 566.2,371.1 567.9,373.1C569.6,375 571.9,375.3 574.7,376.4C577.5,377.6 581.1,379 584.8,379.8C588.4,380.6 593.2,381.1 596.6,381.5C600,381.9 602.2,382.1 605,382.3C607.8,382.6 610.6,382.5 613.5,383.2C616.3,383.9 619.1,385.4 621.9,386.5C624.7,387.7 627.2,389.1 630.3,389.9C633.4,390.8 637.6,391.9 640.4,391.6C643.2,391.3 644.9,389.6 647.2,388.2C649.4,386.8 652.2,384.6 653.9,383.2C655.6,381.8 657.3,381.2 657.3,379.8C657.3,378.4 655.1,377.3 653.9,374.7C652.8,372.2 665.4,366.3 650.6,364.6C635.7,362.9 578.3,363.2 564.5,364.6Z"/>
<path fill="#dbe2fe" d="M542.6,384.9C544.3,370.8 550.2,386 552.7,386.5C555.3,387.1 555.8,387.4 557.8,388.2C559.8,389.1 562.3,390.2 564.5,391.6C566.8,393 568.8,395 571.3,396.7C573.8,398.4 577.2,400 579.7,401.7C582.3,403.4 584.8,404.5 586.5,406.8C588.2,409 589.1,412.1 589.8,415.2C590.5,418.3 590.7,422 590.7,425.3C590.7,428.7 589.8,432.4 589.8,435.5C589.8,438.5 591,441.1 590.7,443.9C590.4,446.7 589.4,449.8 588.2,452.3C586.9,454.8 585.1,457.4 583.1,459.1C581.1,460.7 578.9,461.6 576.4,462.4C573.8,463.3 570.7,463.3 567.9,464.1C565.1,465 562,466.7 559.5,467.5C557,468.3 555.6,468.6 552.7,469.2C549.9,469.7 544.3,484.9 542.6,470.9C540.9,456.8 540.9,398.9 542.6,384.9Z"/>
<path fill="#dbe2fe" d="M647.2,364.6C628.1,366 647.7,371.4 650.6,373.1C653.4,374.7 659.5,374.3 664,374.7C668.5,375.2 673.6,375.3 677.5,375.6C681.5,375.9 685.7,374.9 687.7,376.4C689.6,378 689.6,382.1 689.3,384.9C689.1,387.7 687.1,390.5 686,393.3C684.8,396.1 683.4,398.6 682.6,401.7C681.8,404.8 681.3,408.5 680.9,411.8C680.5,415.2 679.5,419.4 680.1,422C680.6,424.5 682.7,425.6 684.3,427C685.8,428.4 688.2,428.4 689.3,430.4C690.5,432.4 691.3,436.3 691,438.8C690.7,441.4 689.3,443.9 687.7,445.6C686,447.3 682.6,448.1 680.9,448.9C679.2,449.8 677.3,449.8 677.5,450.6C677.8,451.5 680.6,452.6 682.6,454C684.6,455.4 687.4,457.1 689.3,459.1C691.3,461 693.1,463.6 694.4,465.8C695.7,468.1 696.4,470 696.9,472.6C697.5,475.1 697.1,478.7 697.8,481C698.5,483.2 699.7,484.6 701.1,486C702.5,487.4 704.2,488.3 706.2,489.4C708.2,490.5 711,492.8 712.9,492.8C714.9,492.8 709.3,490 718,489.4C726.7,488.9 757.4,510.2 765.2,489.4C773.1,468.6 784.9,385.4 765.2,364.6C745.6,343.8 666.3,363.2 647.2,364.6Z"/>
<path fill="#dbe2fe" d="M586.5,469.2C586.8,466.5 588,465.2 589,465C590,464.7 591.9,465.4 592.4,467.5C592.9,469.6 592.3,474.8 591.9,477.6C591.4,480.4 590.4,483.8 589.5,484.4C588.7,484.9 587.3,483.5 586.8,481C586.3,478.5 586.1,471.9 586.5,469.2Z"/>
<path fill="#dbe2fe" d="M571.3,511.3C571.7,509.5 572.8,508.1 573.8,508C574.8,507.8 576.8,508.5 577.2,510.5C577.6,512.5 577.1,517.5 576.4,519.8C575.7,522 573.8,524.1 573,524C572.1,523.8 571.6,521 571.3,518.9C571,516.8 570.9,513.2 571.3,511.3Z"/>
<path fill="#dbe2fe" d="M580.2,494.5C580.6,493.1 581.7,492.2 582.3,492.8C582.8,493.4 583.5,496 583.4,497.8C583.4,499.7 582.3,503.2 581.8,503.8C581.2,504.3 580.5,502.8 580.2,501.2C580,499.7 579.9,495.9 580.2,494.5Z"/>
<path fill="#dbe2fe" d="M657.3,432.1C657.7,431.2 659.5,430 660.7,430.4C661.8,430.8 663.9,433.5 664,434.6C664.2,435.7 662.5,437 661.5,437.1C660.5,437.3 658.8,436.3 658.1,435.5C657.4,434.6 656.9,432.9 657.3,432.1Z"/>
<path fill="#fefefe" d="M542.6,398.4C544,387.5 548.8,397.2 551.1,397.5C553.3,397.8 554.7,398.5 556.1,400C557.5,401.6 558.1,405.4 559.5,406.8C560.9,408.2 562.9,407.6 564.5,408.5C566.2,409.3 567.9,410.7 569.6,411.8C571.3,413 573,414.1 574.7,415.2C576.4,416.3 578.7,416.6 579.7,418.6C580.7,420.6 580.7,424.2 580.6,427C580.4,429.8 579,432.9 578.9,435.5C578.7,438 580.4,440.2 579.7,442.2C579,444.2 576.4,445.6 574.7,447.3C573,448.9 571.3,450.9 569.6,452.3C567.9,453.7 566.2,454.6 564.5,455.7C562.9,456.8 561.2,458.1 559.5,459.1C557.8,460 557.2,461 554.4,461.6C551.6,462.2 544.6,473 542.6,462.4C540.7,451.9 541.2,409.2 542.6,398.4Z"/>
<path fill="#fefefe" d="M719.7,364.6C712,366.3 719.7,371.4 718.8,374.7C718,378.1 715.9,381.5 714.6,384.9C713.4,388.2 712.1,391.6 711.3,395C710.4,398.4 709.7,401.7 709.6,405.1C709.4,408.5 709.9,412.4 710.4,415.2C711,418 713.1,419.4 712.9,422C712.8,424.5 710.4,427.6 709.6,430.4C708.7,433.2 709,436.6 707.9,438.8C706.8,441.1 704.5,442.5 702.8,443.9C701.1,445.3 699.5,446.1 697.8,447.3C696.1,448.4 692.7,449.2 692.7,450.6C692.7,452 696.6,453.7 697.8,455.7C698.9,457.7 698.6,460.2 699.5,462.4C700.3,464.7 701.4,466.9 702.8,469.2C704.2,471.4 706.2,474 707.9,475.9C709.6,477.9 711,479.3 712.9,481C714.9,482.7 718,485.1 719.7,486C721.4,487 715.5,486.9 723.1,486.9C730.7,486.9 758.2,506.4 765.2,486C772.3,465.7 772.8,384.9 765.2,364.6C757.6,344.4 727.4,362.9 719.7,364.6Z"/>
<path fill="#fefefe" d="M650.6,364.6C646.1,365.6 651.7,369.3 653.9,370.5C656.2,371.8 660.7,372.1 664,372.2C667.4,372.4 671.1,371.2 674.2,371.4C677.3,371.5 681,373.3 682.6,373.1C684.1,372.8 683.7,371.1 683.4,369.7C683.2,368.3 686.4,365.5 680.9,364.6C675.4,363.8 655.1,363.6 650.6,364.6Z"/>
<path fill="#ffe1db" d="M542.6,423.6C544.3,419.7 550.2,422.8 552.7,422C555.3,421.1 556.1,418.9 557.8,418.6C559.5,418.3 561.2,419.4 562.9,420.3C564.5,421.1 566.5,422.5 567.9,423.6C569.3,424.8 571,425.6 571.3,427C571.6,428.4 570.7,430.7 569.6,432.1C568.5,433.5 566.2,434.6 564.5,435.5C562.9,436.3 560.9,436.3 559.5,437.1C558.1,438 557.5,439.7 556.1,440.5C554.7,441.4 553.3,441.4 551.1,442.2C548.8,443 544,448.7 542.6,445.6C541.2,442.5 540.9,427.6 542.6,423.6Z"/>
<path fill="#ffc2b6" d="M561.2,423.6C562,422.7 564.8,422.4 566.2,422.8C567.6,423.2 569.3,424.9 569.6,426.2C569.9,427.4 568.9,429.4 567.9,430.4C566.9,431.4 564.8,432.4 563.7,432.1C562.6,431.8 561.6,430.1 561.2,428.7C560.8,427.3 560.3,424.6 561.2,423.6Z"/>
<path fill="#ffe1db" d="M728.2,359.2C721.6,358.8 728.9,356.5 729.8,356.9C730.7,357.3 732.7,359.9 733.7,361.6C734.8,363.3 736.3,365.5 736.1,367.1C735.8,368.6 733.5,369.8 732.2,371C730.8,372.2 728.8,372.9 728.2,374.1C727.7,375.3 728.1,377.1 729,378C729.9,379 732.3,379 733.7,379.6C735.2,380.3 736.9,380.8 737.6,382C738.4,383.1 737.9,385 738.4,386.7C739,388.4 740,390.3 740.8,392.2C741.6,394 742.5,395.9 743.1,397.6C743.8,399.3 744.2,400.7 744.7,402.4C745.2,404.1 745.9,405.9 746.3,407.8C746.7,409.8 747.1,412.3 747.1,414.1C747.1,415.9 746.9,417.4 746.3,418.8C745.6,420.3 744.3,421.2 743.1,422.7C742,424.3 740.5,426.5 739.2,428.2C737.9,429.9 736.5,431.6 735.3,432.9C734.1,434.2 732.5,434.9 732.2,436.1C731.8,437.3 731.9,438.4 732.9,440C734,441.6 732.3,444.6 738.4,445.5C744.6,446.4 764.6,459.9 769.8,445.5C775,431.1 776.7,373.6 769.8,359.2C762.9,344.8 734.9,359.6 728.2,359.2Z"/>
<path fill="#ffc2b6" d="M735.3,357.6C730.1,358.4 738,360.5 738.4,362.4C738.8,364.2 738.3,366.8 737.6,368.6C737,370.5 734.5,371.9 734.5,373.3C734.5,374.8 736.3,376.1 737.6,377.3C739,378.4 741.3,379.1 742.4,380.4C743.4,381.7 743.4,383.4 743.9,385.1C744.4,386.8 745,388.9 745.5,390.6C746,392.3 746.4,393.7 747.1,395.3C747.7,396.9 748.6,398.7 749.4,400C750.2,401.3 748.4,402.6 751.8,403.1C755.2,403.7 766.8,410.7 769.8,403.1C772.8,395.6 775.6,365.2 769.8,357.6C764.1,350.1 740.5,356.9 735.3,357.6Z"/>
<path fill="#ffc2b6" d="M750.2,420.4C746.5,421.2 748.8,423.5 747.8,425.1C746.9,426.7 745.3,428.1 744.7,429.8C744.1,431.5 744.1,433.6 744.3,435.3C744.6,437 742,439.2 746.3,440C750.5,440.8 765.9,443.3 769.8,440C773.7,436.7 773.1,423.7 769.8,420.4C766.5,417.1 753.9,419.6 750.2,420.4Z"/>
<path fill="#ffa492" d="M740,356.1C735.6,356.9 742.4,359.1 743.1,360.8C743.9,362.5 744.7,364.2 744.7,366.3C744.7,368.4 742.9,371.1 743.1,373.3C743.4,375.6 745.5,377.5 746.3,379.6C747.1,381.7 747.3,383.8 747.8,385.9C748.4,388 748.6,390.3 749.4,392.2C750.2,394 751.8,395.8 752.5,396.9C753.3,397.9 751.2,398.2 754.1,398.4C757,398.7 767.2,405.5 769.8,398.4C772.4,391.4 774.8,363.1 769.8,356.1C764.8,349 744.4,355.3 740,356.1Z"/>
<path fill="#ff856d" d="M756.1,363.9C753.3,364.4 754.1,365.9 753.3,367.1C752.5,368.2 751.8,369.7 751.4,371C751,372.3 750.8,373.5 751,374.9C751.2,376.3 752,377.9 752.5,379.6C753.1,381.3 753.7,383.3 754.1,385.1C754.6,386.9 755,389.3 755.3,390.6C755.6,391.9 753.7,392.5 756.1,392.9C758.5,393.3 767.5,397.8 769.8,392.9C772.1,388.1 772.1,368.8 769.8,363.9C767.5,359.1 758.8,363.4 756.1,363.9Z"/>
</g>
</g>
<use href="#coast"/>
<use href="#grid"/>
<circle cx="550.9" cy="372.8" r="1.9" fill="#fff"/>
</g>
<rect x="344" y="165" width="413" height="412.8" fill="none" stroke="#000" stroke-width="1.67"/>
</g>
<g transform="translate(0,0)">
<g shape-rendering="crispEdges">
<rect x="790.8" y="237" width="41" height="18" fill="#ff2b00"/>
<rect x="790.8" y="255" width="41" height="18" fill="#ff5c00"/>
<rect x="790.8" y="273" width="41" height="18" fill="#ff7a00"/>
<rect x="790.8" y="291" width="41" height="18" fill="#ff960d"/>
<rect x="790.8" y="309" width="41" height="18" fill="#ffae17"/>
<rect x="790.8" y="327" width="41" height="18" fill="#f7c822"/>
<rect x="790.8" y="345" width="41" height="18" fill="#dbc620"/>
<rect x="790.8" y="363" width="41" height="18" fill="#b2bf1a"/>
<rect x="790.8" y="381" width="41" height="18" fill="#8db513"/>
<rect x="790.8" y="399" width="41" height="18" fill="#5dab0e"/>
<rect x="790.8" y="417" width="41" height="17" fill="#3d9a37"/>
<rect x="790.8" y="434" width="41" height="18" fill="#3b8a69"/>
<rect x="790.8" y="452" width="41" height="18" fill="#0c768f"/>
<rect x="790.8" y="470" width="41" height="18" fill="#0055c4"/>
<rect x="790.8" y="488" width="41" height="18" fill="#0034f8"/>
</g>
<path fill="#ff2b00" d="M790.8,237.6 L811.2,223.2 L831.7,237.6Z"/>
<path fill="#0034f8" d="M790.8,505.5 L811.2,519.2 L831.7,505.5Z"/>
<path fill="none" stroke="#000" stroke-width="1.67" stroke-linejoin="miter" d="M790.8,237.1 L811.2,223.2 L831.7,237.1 L831.7,506 L811.2,519.2 L790.8,506Z"/>
</g>
<g style="will-change:transform;filter:grayscale(1)"><text x="829.36" y="261.9" font-size="19.1" textLength="64.69" lengthAdjust="spacingAndGlyphs">1035.0</text><text x="829.36" y="279.9" font-size="19.1" textLength="64.69" lengthAdjust="spacingAndGlyphs">1025.0</text><text x="829.36" y="297.9" font-size="19.1" textLength="64.69" lengthAdjust="spacingAndGlyphs">1020.0</text><text x="829.36" y="315.9" font-size="19.1" textLength="64.69" lengthAdjust="spacingAndGlyphs">1015.0</text><text x="829.36" y="333.9" font-size="19.1" textLength="64.69" lengthAdjust="spacingAndGlyphs">1010.0</text><text x="829.36" y="351.9" font-size="19.1" textLength="64.69" lengthAdjust="spacingAndGlyphs">1005.0</text><text x="829.36" y="369.9" font-size="19.1" textLength="64.69" lengthAdjust="spacingAndGlyphs">1000.0</text><text x="841.25" y="387.9" font-size="19.1" textLength="52.66" lengthAdjust="spacingAndGlyphs">995.0</text><text x="841.25" y="405.9" font-size="19.1" textLength="52.66" lengthAdjust="spacingAndGlyphs">990.0</text><text x="841.25" y="423.9" font-size="19.1" textLength="52.66" lengthAdjust="spacingAndGlyphs">985.0</text><text x="841.25" y="440.9" font-size="19.1" textLength="52.66" lengthAdjust="spacingAndGlyphs">980.0</text><text x="841.25" y="458.9" font-size="19.1" textLength="52.66" lengthAdjust="spacingAndGlyphs">975.0</text><text x="841.25" y="476.9" font-size="19.1" textLength="52.66" lengthAdjust="spacingAndGlyphs">965.0</text><text x="841.25" y="494.9" font-size="19.1" textLength="52.66" lengthAdjust="spacingAndGlyphs">955.0</text></g>
<g transform="translate(0,495)">
<g shape-rendering="crispEdges">
<rect x="790.8" y="237" width="41" height="18" fill="#ff2b00"/>
<rect x="790.8" y="255" width="41" height="18" fill="#ff5c00"/>
<rect x="790.8" y="273" width="41" height="18" fill="#ff7a00"/>
<rect x="790.8" y="291" width="41" height="18" fill="#ff960d"/>
<rect x="790.8" y="309" width="41" height="18" fill="#ffae17"/>
<rect x="790.8" y="327" width="41" height="18" fill="#f7c822"/>
<rect x="790.8" y="345" width="41" height="18" fill="#dbc620"/>
<rect x="790.8" y="363" width="41" height="18" fill="#b2bf1a"/>
<rect x="790.8" y="381" width="41" height="18" fill="#8db513"/>
<rect x="790.8" y="399" width="41" height="18" fill="#5dab0e"/>
<rect x="790.8" y="417" width="41" height="17" fill="#3d9a37"/>
<rect x="790.8" y="434" width="41" height="18" fill="#3b8a69"/>
<rect x="790.8" y="452" width="41" height="18" fill="#0c768f"/>
<rect x="790.8" y="470" width="41" height="18" fill="#0055c4"/>
<rect x="790.8" y="488" width="41" height="18" fill="#0034f8"/>
</g>
<path fill="#ff2b00" d="M790.8,237.6 L811.2,223.2 L831.7,237.6Z"/>
<path fill="#0034f8" d="M790.8,505.5 L811.2,519.2 L831.7,505.5Z"/>
<path fill="none" stroke="#000" stroke-width="1.67" stroke-linejoin="miter" d="M790.8,237.1 L811.2,223.2 L831.7,237.1 L831.7,506 L811.2,519.2 L790.8,506Z"/>
</g>
<g style="will-change:transform;filter:grayscale(1)"><text x="829.36" y="756.9" font-size="19.1" textLength="64.69" lengthAdjust="spacingAndGlyphs">1035.0</text><text x="829.36" y="774.9" font-size="19.1" textLength="64.69" lengthAdjust="spacingAndGlyphs">1025.0</text><text x="829.36" y="792.9" font-size="19.1" textLength="64.69" lengthAdjust="spacingAndGlyphs">1020.0</text><text x="829.36" y="810.9" font-size="19.1" textLength="64.69" lengthAdjust="spacingAndGlyphs">1015.0</text><text x="829.36" y="828.9" font-size="19.1" textLength="64.69" lengthAdjust="spacingAndGlyphs">1010.0</text><text x="829.36" y="846.9" font-size="19.1" textLength="64.69" lengthAdjust="spacingAndGlyphs">1005.0</text><text x="829.36" y="864.9" font-size="19.1" textLength="64.69" lengthAdjust="spacingAndGlyphs">1000.0</text><text x="841.25" y="882.9" font-size="19.1" textLength="52.66" lengthAdjust="spacingAndGlyphs">995.0</text><text x="841.25" y="900.9" font-size="19.1" textLength="52.66" lengthAdjust="spacingAndGlyphs">990.0</text><text x="841.25" y="918.9" font-size="19.1" textLength="52.66" lengthAdjust="spacingAndGlyphs">985.0</text><text x="841.25" y="935.9" font-size="19.1" textLength="52.66" lengthAdjust="spacingAndGlyphs">980.0</text><text x="841.25" y="953.9" font-size="19.1" textLength="52.66" lengthAdjust="spacingAndGlyphs">975.0</text><text x="841.25" y="971.9" font-size="19.1" textLength="52.66" lengthAdjust="spacingAndGlyphs">965.0</text><text x="841.25" y="989.9" font-size="19.1" textLength="52.66" lengthAdjust="spacingAndGlyphs">955.0</text></g>
<g transform="translate(0,990)">
<g shape-rendering="crispEdges">
<rect x="790.8" y="237" width="41" height="18" fill="#ff2a00"/>
<rect x="790.8" y="255" width="41" height="18" fill="#ff4824"/>
<rect x="790.8" y="273" width="41" height="18" fill="#ff6749"/>
<rect x="790.8" y="291" width="41" height="18" fill="#ff856d"/>
<rect x="790.8" y="309" width="41" height="18" fill="#ffa492"/>
<rect x="790.8" y="327" width="41" height="18" fill="#ffc2b6"/>
<rect x="790.8" y="345" width="41" height="18" fill="#ffe1db"/>
<rect x="790.8" y="363" width="41" height="18" fill="#fefefe"/>
<rect x="790.8" y="381" width="41" height="18" fill="#dbe2fe"/>
<rect x="790.8" y="399" width="41" height="18" fill="#b6c5fd"/>
<rect x="790.8" y="417" width="41" height="17" fill="#92a8fc"/>
<rect x="790.8" y="434" width="41" height="18" fill="#6d8bfb"/>
<rect x="790.8" y="452" width="41" height="18" fill="#496efa"/>
<rect x="790.8" y="470" width="41" height="18" fill="#2451f9"/>
<rect x="790.8" y="488" width="41" height="18" fill="#0034f8"/>
</g>
<path fill="#ff2a00" d="M790.8,237.6 L811.2,223.2 L831.7,237.6Z"/>
<path fill="#0034f8" d="M790.8,505.5 L811.2,519.2 L831.7,505.5Z"/>
<path fill="none" stroke="#000" stroke-width="1.67" stroke-linejoin="miter" d="M790.8,237.1 L811.2,223.2 L831.7,237.1 L831.7,506 L811.2,519.2 L790.8,506Z"/>
</g>
<g style="will-change:transform;filter:grayscale(1)"><text x="843.33" y="1251.8" font-size="19.1" textLength="40.83" lengthAdjust="spacingAndGlyphs">16.0</text><text x="843.33" y="1269.8" font-size="19.1" textLength="40.83" lengthAdjust="spacingAndGlyphs">12.0</text><text x="855.22" y="1287.8" font-size="19.1" textLength="28.80" lengthAdjust="spacingAndGlyphs">8.0</text><text x="855.39" y="1305.8" font-size="19.1" textLength="28.62" lengthAdjust="spacingAndGlyphs">4.0</text><text x="855.07" y="1323.8" font-size="19.1" textLength="28.95" lengthAdjust="spacingAndGlyphs">2.0</text><text x="855.28" y="1341.8" font-size="19.1" textLength="28.73" lengthAdjust="spacingAndGlyphs">1.0</text><text x="855.22" y="1359.8" font-size="19.1" textLength="28.69" lengthAdjust="spacingAndGlyphs">0.5</text><text x="848.08" y="1377.8" font-size="19.1" textLength="35.68" lengthAdjust="spacingAndGlyphs">-0.5</text><text x="848.07" y="1395.8" font-size="19.1" textLength="36.07" lengthAdjust="spacingAndGlyphs">-1.0</text><text x="848.07" y="1413.8" font-size="19.1" textLength="36.07" lengthAdjust="spacingAndGlyphs">-2.0</text><text x="848.07" y="1430.8" font-size="19.1" textLength="36.07" lengthAdjust="spacingAndGlyphs">-4.0</text><text x="848.07" y="1448.8" font-size="19.1" textLength="36.07" lengthAdjust="spacingAndGlyphs">-8.0</text><text x="836.13" y="1466.8" font-size="19.1" textLength="48.15" lengthAdjust="spacingAndGlyphs">-12.0</text><text x="836.13" y="1484.8" font-size="19.1" textLength="48.15" lengthAdjust="spacingAndGlyphs">-16.0</text></g>
<g style="will-change:transform;filter:grayscale(1)">
<text x="480.29" y="76.6" font-size="38.2" textLength="314.15" lengthAdjust="spacingAndGlyphs">PSL ANN polar_N</text>
<text x="344.06" y="128.3" font-size="19.1" textLength="409.14" lengthAdjust="spacingAndGlyphs">alpha3_min30nc_dp1=0.01_c14=1.24 (2-6)</text>
<text x="344.73" y="152" font-size="19.1" textLength="49.38" lengthAdjust="spacingAndGlyphs">mbar</text>
<text x="344.05" y="626.1" font-size="19.1" textLength="305.90" lengthAdjust="spacingAndGlyphs">MERRA2 Reanalysis (1980-2016)</text>
<text x="344.73" y="648" font-size="19.1" textLength="49.38" lengthAdjust="spacingAndGlyphs">mbar</text>
<text x="423.14" y="1141.8" font-size="24.4" textLength="254.33" lengthAdjust="spacingAndGlyphs">Model - Observations</text>
<text x="790.31" y="162.2" font-size="19.1" textLength="38.36" lengthAdjust="spacingAndGlyphs">Max</text>
<text x="841.53" y="162.2" font-size="19.1" textLength="76.36" lengthAdjust="spacingAndGlyphs">1023.32</text>
<text x="790.31" y="184.2" font-size="19.1" textLength="50.77" lengthAdjust="spacingAndGlyphs">Mean</text>
<text x="841.53" y="184.2" font-size="19.1" textLength="76.25" lengthAdjust="spacingAndGlyphs">1010.91</text>
<text x="790.29" y="206.2" font-size="19.1" textLength="32.99" lengthAdjust="spacingAndGlyphs">Min</text>
<text x="841.53" y="206.2" font-size="19.1" textLength="76.25" lengthAdjust="spacingAndGlyphs">1003.21</text>
<text x="790.31" y="657.2" font-size="19.1" textLength="38.36" lengthAdjust="spacingAndGlyphs">Max</text>
<text x="841.53" y="657.2" font-size="19.1" textLength="76.38" lengthAdjust="spacingAndGlyphs">1020.43</text>
<text x="790.31" y="679.2" font-size="19.1" textLength="50.77" lengthAdjust="spacingAndGlyphs">Mean</text>
<text x="841.53" y="679.2" font-size="19.1" textLength="76.38" lengthAdjust="spacingAndGlyphs">1012.15</text>
<text x="790.29" y="701.2" font-size="19.1" textLength="32.99" lengthAdjust="spacingAndGlyphs">Min</text>
<text x="841.53" y="701.2" font-size="19.1" textLength="76.54" lengthAdjust="spacingAndGlyphs">1002.27</text>
<text x="790.31" y="1152.2" font-size="19.1" textLength="38.36" lengthAdjust="spacingAndGlyphs">Max</text>
<text x="877.28" y="1152.2" font-size="19.1" textLength="40.88" lengthAdjust="spacingAndGlyphs">8.96</text>
<text x="790.31" y="1174.2" font-size="19.1" textLength="50.77" lengthAdjust="spacingAndGlyphs">Mean</text>
<text x="870.13" y="1174.2" font-size="19.1" textLength="48.00" lengthAdjust="spacingAndGlyphs">-1.24</text>
<text x="790.29" y="1196.2" font-size="19.1" textLength="32.99" lengthAdjust="spacingAndGlyphs">Min</text>
<text x="870.13" y="1196.2" font-size="19.1" textLength="48.00" lengthAdjust="spacingAndGlyphs">-5.74</text>
<text x="790.49" y="1545.6" font-size="19.1" textLength="51.90" lengthAdjust="spacingAndGlyphs">RMSE</text>
<text x="877.12" y="1545.6" font-size="19.1" textLength="41.04" lengthAdjust="spacingAndGlyphs">2.46</text>
<text x="790.18" y="1567.7" font-size="19.1" textLength="54.28" lengthAdjust="spacingAndGlyphs">CORR</text>
<text x="877.28" y="1567.7" font-size="19.1" textLength="40.65" lengthAdjust="spacingAndGlyphs">0.81</text>
</g>
</svg></body></html>
